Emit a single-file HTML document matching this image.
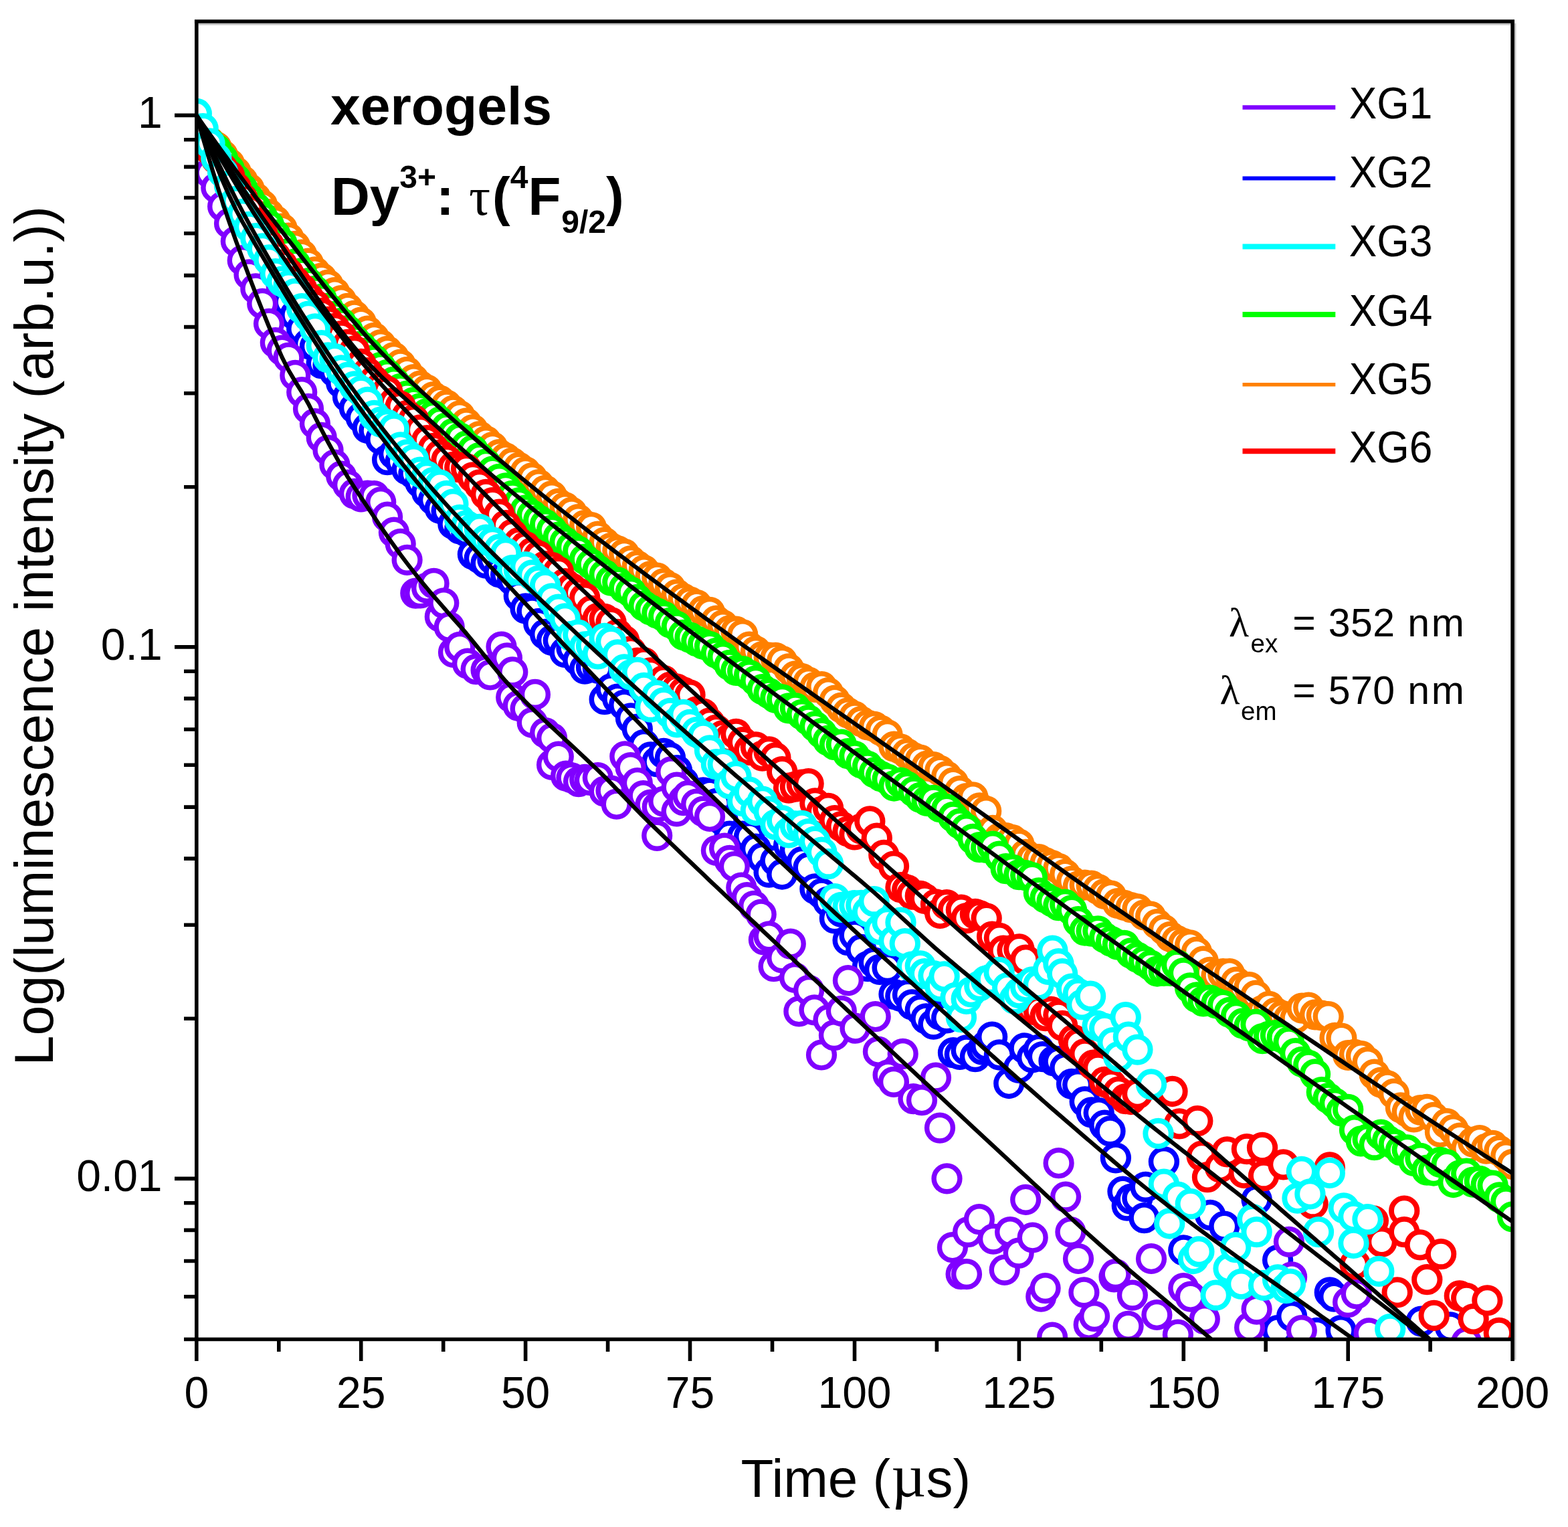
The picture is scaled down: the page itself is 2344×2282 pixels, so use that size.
<!DOCTYPE html>
<html lang="en"><head><meta charset="utf-8"><title>Dy3+ luminescence decay - xerogels</title>
<style>html,body{margin:0;padding:0;background:#fff}body{width:2344px;height:2282px;overflow:hidden}svg{display:block}text{font-family:"Liberation Sans",sans-serif;fill:#000}.tk{font-size:66px}.ti{font-size:80px}.b{font-weight:bold;font-size:80px}.lg{font-size:63.5px}.lm{font-size:59px}.sym{font-family:"Liberation Serif","DejaVu Serif",serif}</style></head><body>
<svg xmlns="http://www.w3.org/2000/svg" width="2344" height="2282" viewBox="0 0 2344 2282">
<rect width="2344" height="2282" fill="#fff"/>
<defs><clipPath id="cp"><rect x="293.8" y="32.0" width="1967.3" height="1969.5"/></clipPath></defs>
<g clip-path="url(#cp)" fill="none">
<g stroke="#0000ff" stroke-width="7.5" fill="#fff"><circle cx="293.8" cy="187.0" r="19.4"/><circle cx="303.6" cy="208.9" r="19.4"/><circle cx="313.5" cy="230.1" r="19.4"/><circle cx="323.3" cy="250.4" r="19.4"/><circle cx="333.1" cy="272.1" r="19.4"/><circle cx="343.0" cy="295.2" r="19.4"/><circle cx="352.8" cy="313.1" r="19.4"/><circle cx="362.7" cy="332.4" r="19.4"/><circle cx="372.5" cy="347.6" r="19.4"/><circle cx="382.3" cy="364.2" r="19.4"/><circle cx="392.2" cy="379.8" r="19.4"/><circle cx="402.0" cy="398.8" r="19.4"/><circle cx="411.8" cy="418.4" r="19.4"/><circle cx="421.7" cy="429.7" r="19.4"/><circle cx="431.5" cy="451.3" r="19.4"/><circle cx="441.3" cy="470.9" r="19.4"/><circle cx="451.2" cy="491.5" r="19.4"/><circle cx="461.0" cy="513.9" r="19.4"/><circle cx="470.9" cy="517.8" r="19.4"/><circle cx="480.7" cy="543.1" r="19.4"/><circle cx="490.5" cy="545.8" r="19.4"/><circle cx="500.4" cy="555.9" r="19.4"/><circle cx="510.2" cy="572.5" r="19.4"/><circle cx="520.0" cy="593.2" r="19.4"/><circle cx="529.9" cy="609.8" r="19.4"/><circle cx="539.7" cy="624.1" r="19.4"/><circle cx="549.5" cy="639.8" r="19.4"/><circle cx="559.4" cy="643.5" r="19.4"/><circle cx="569.2" cy="656.4" r="19.4"/><circle cx="579.1" cy="687.1" r="19.4"/><circle cx="588.9" cy="678.3" r="19.4"/><circle cx="598.7" cy="689.5" r="19.4"/><circle cx="608.6" cy="701.9" r="19.4"/><circle cx="618.4" cy="708.1" r="19.4"/><circle cx="628.2" cy="721.1" r="19.4"/><circle cx="638.1" cy="735.8" r="19.4"/><circle cx="647.9" cy="747.2" r="19.4"/><circle cx="657.8" cy="759.9" r="19.4"/><circle cx="667.6" cy="763.8" r="19.4"/><circle cx="677.4" cy="783.2" r="19.4"/><circle cx="687.3" cy="790.4" r="19.4"/><circle cx="697.1" cy="794.3" r="19.4"/><circle cx="706.9" cy="828.3" r="19.4"/><circle cx="716.8" cy="834.2" r="19.4"/><circle cx="726.6" cy="841.7" r="19.4"/><circle cx="736.4" cy="836.0" r="19.4"/><circle cx="746.3" cy="855.2" r="19.4"/><circle cx="756.1" cy="858.9" r="19.4"/><circle cx="766.0" cy="867.2" r="19.4"/><circle cx="775.8" cy="890.4" r="19.4"/><circle cx="785.6" cy="909.5" r="19.4"/><circle cx="795.5" cy="913.4" r="19.4"/><circle cx="805.3" cy="932.0" r="19.4"/><circle cx="815.1" cy="947.9" r="19.4"/><circle cx="825.0" cy="956.9" r="19.4"/><circle cx="834.8" cy="957.2" r="19.4"/><circle cx="844.6" cy="974.9" r="19.4"/><circle cx="854.5" cy="968.5" r="19.4"/><circle cx="864.3" cy="987.0" r="19.4"/><circle cx="874.2" cy="999.6" r="19.4"/><circle cx="884.0" cy="997.0" r="19.4"/><circle cx="893.8" cy="998.6" r="19.4"/><circle cx="903.7" cy="1045.2" r="19.4"/><circle cx="913.5" cy="1029.5" r="19.4"/><circle cx="923.3" cy="1044.6" r="19.4"/><circle cx="933.2" cy="1053.7" r="19.4"/><circle cx="943.0" cy="1073.3" r="19.4"/><circle cx="952.8" cy="1089.6" r="19.4"/><circle cx="962.7" cy="1112.9" r="19.4"/><circle cx="972.5" cy="1131.5" r="19.4"/><circle cx="982.4" cy="1138.4" r="19.4"/><circle cx="992.2" cy="1125.9" r="19.4"/><circle cx="1002.0" cy="1132.5" r="19.4"/><circle cx="1011.9" cy="1151.2" r="19.4"/><circle cx="1021.7" cy="1168.3" r="19.4"/><circle cx="1031.5" cy="1193.3" r="19.4"/><circle cx="1041.4" cy="1196.1" r="19.4"/><circle cx="1051.2" cy="1184.3" r="19.4"/><circle cx="1061.0" cy="1185.7" r="19.4"/><circle cx="1070.9" cy="1200.9" r="19.4"/><circle cx="1080.7" cy="1226.4" r="19.4"/><circle cx="1090.6" cy="1249.7" r="19.4"/><circle cx="1100.4" cy="1267.2" r="19.4"/><circle cx="1110.2" cy="1249.7" r="19.4"/><circle cx="1120.1" cy="1250.2" r="19.4"/><circle cx="1129.9" cy="1268.7" r="19.4"/><circle cx="1139.7" cy="1281.8" r="19.4"/><circle cx="1149.6" cy="1303.6" r="19.4"/><circle cx="1159.4" cy="1286.3" r="19.4"/><circle cx="1169.2" cy="1306.5" r="19.4"/><circle cx="1179.1" cy="1263.1" r="19.4"/><circle cx="1188.9" cy="1270.2" r="19.4"/><circle cx="1198.8" cy="1288.0" r="19.4"/><circle cx="1208.6" cy="1296.5" r="19.4"/><circle cx="1218.4" cy="1328.4" r="19.4"/><circle cx="1228.3" cy="1335.5" r="19.4"/><circle cx="1238.1" cy="1347.4" r="19.4"/><circle cx="1247.9" cy="1372.4" r="19.4"/><circle cx="1257.8" cy="1362.9" r="19.4"/><circle cx="1267.6" cy="1405.1" r="19.4"/><circle cx="1277.5" cy="1397.6" r="19.4"/><circle cx="1287.3" cy="1419.0" r="19.4"/><circle cx="1297.1" cy="1444.2" r="19.4"/><circle cx="1306.6" cy="1438.3" r="19.4"/><circle cx="1315.0" cy="1448.8" r="19.4"/><circle cx="1326.6" cy="1446.2" r="19.4"/><circle cx="1336.5" cy="1485.8" r="19.4"/><circle cx="1346.3" cy="1488.9" r="19.4"/><circle cx="1357.0" cy="1486.6" r="19.4"/><circle cx="1363.3" cy="1501.3" r="19.4"/><circle cx="1375.8" cy="1509.3" r="19.4"/><circle cx="1384.3" cy="1522.3" r="19.4"/><circle cx="1395.5" cy="1530.7" r="19.4"/><circle cx="1405.3" cy="1516.6" r="19.4"/><circle cx="1415.2" cy="1521.4" r="19.4"/><circle cx="1425.0" cy="1573.2" r="19.4"/><circle cx="1434.8" cy="1575.8" r="19.4"/><circle cx="1444.7" cy="1569.5" r="19.4"/><circle cx="1457.9" cy="1579.1" r="19.4"/><circle cx="1468.4" cy="1568.6" r="19.4"/><circle cx="1474.2" cy="1562.8" r="19.4"/><circle cx="1483.1" cy="1549.6" r="19.4"/><circle cx="1493.9" cy="1576.5" r="19.4"/><circle cx="1508.3" cy="1619.0" r="19.4"/><circle cx="1523.0" cy="1595.9" r="19.4"/><circle cx="1531.4" cy="1566.5" r="19.4"/><circle cx="1543.0" cy="1580.5" r="19.4"/><circle cx="1552.9" cy="1568.6" r="19.4"/><circle cx="1558.7" cy="1579.1" r="19.4"/><circle cx="1575.5" cy="1585.4" r="19.4"/><circle cx="1582.4" cy="1586.2" r="19.4"/><circle cx="1592.3" cy="1595.9" r="19.4"/><circle cx="1602.1" cy="1620.0" r="19.4"/><circle cx="1611.2" cy="1621.1" r="19.4"/><circle cx="1621.7" cy="1646.3" r="19.4"/><circle cx="1631.6" cy="1662.5" r="19.4"/><circle cx="1642.7" cy="1663.1" r="19.4"/><circle cx="1651.2" cy="1681.6" r="19.4"/><circle cx="1659.5" cy="1690.4" r="19.4"/><circle cx="1667.9" cy="1730.3" r="19.4"/><circle cx="1678.5" cy="1780.7" r="19.4"/><circle cx="1684.8" cy="1801.7" r="19.4"/><circle cx="1690.6" cy="1791.9" r="19.4"/><circle cx="1700.4" cy="1790.6" r="19.4"/><circle cx="1710.5" cy="1820.1" r="19.4"/><circle cx="1712.6" cy="1773.9" r="19.4"/><circle cx="1739.9" cy="1736.1" r="19.4"/><circle cx="1769.3" cy="1868.4" r="19.4"/><circle cx="1809.2" cy="1815.9" r="19.4"/><circle cx="1830.3" cy="1832.7" r="19.4"/><circle cx="1878.6" cy="1792.8" r="19.4"/><circle cx="1910.1" cy="1883.1" r="19.4"/><circle cx="1910.1" cy="1988.2" r="19.4"/><circle cx="1931.1" cy="1967.1" r="19.4"/><circle cx="1968.7" cy="1992.0" r="19.4"/><circle cx="1987.8" cy="1931.4" r="19.4"/><circle cx="1994.1" cy="1937.7" r="19.4"/><circle cx="2004.6" cy="1988.2" r="19.4"/><circle cx="2124.7" cy="1974.6" r="19.4"/><circle cx="2168.0" cy="1983.3" r="19.4"/></g>
<g stroke="#8000ff" stroke-width="7.4" fill="#fff"><circle cx="293.8" cy="235.2" r="19.4"/><circle cx="303.6" cy="245.7" r="19.4"/><circle cx="313.5" cy="258.3" r="19.4"/><circle cx="323.3" cy="280.5" r="19.4"/><circle cx="333.1" cy="308.5" r="19.4"/><circle cx="343.0" cy="333.9" r="19.4"/><circle cx="352.8" cy="360.6" r="19.4"/><circle cx="362.7" cy="389.2" r="19.4"/><circle cx="372.5" cy="410.4" r="19.4"/><circle cx="382.3" cy="431.4" r="19.4"/><circle cx="392.2" cy="453.9" r="19.4"/><circle cx="402.0" cy="483.8" r="19.4"/><circle cx="411.8" cy="512.2" r="19.4"/><circle cx="421.7" cy="523.7" r="19.4"/><circle cx="431.5" cy="534.5" r="19.4"/><circle cx="441.3" cy="560.9" r="19.4"/><circle cx="451.2" cy="586.1" r="19.4"/><circle cx="461.0" cy="610.9" r="19.4"/><circle cx="470.9" cy="633.2" r="19.4"/><circle cx="480.7" cy="653.9" r="19.4"/><circle cx="490.5" cy="672.9" r="19.4"/><circle cx="500.4" cy="694.5" r="19.4"/><circle cx="510.2" cy="711.5" r="19.4"/><circle cx="520.0" cy="724.5" r="19.4"/><circle cx="529.9" cy="737.8" r="19.4"/><circle cx="539.7" cy="742.3" r="19.4"/><circle cx="549.5" cy="740.6" r="19.4"/><circle cx="559.4" cy="741.2" r="19.4"/><circle cx="569.2" cy="750.3" r="19.4"/><circle cx="579.1" cy="772.5" r="19.4"/><circle cx="588.9" cy="795.7" r="19.4"/><circle cx="598.7" cy="812.8" r="19.4"/><circle cx="608.6" cy="836.8" r="19.4"/><circle cx="621.3" cy="886.6" r="19.4"/><circle cx="628.2" cy="886.4" r="19.4"/><circle cx="638.1" cy="878.7" r="19.4"/><circle cx="648.6" cy="871.9" r="19.4"/><circle cx="657.8" cy="921.7" r="19.4"/><circle cx="663.3" cy="901.3" r="19.4"/><circle cx="671.7" cy="937.0" r="19.4"/><circle cx="678.0" cy="974.9" r="19.4"/><circle cx="687.3" cy="966.9" r="19.4"/><circle cx="699.0" cy="991.7" r="19.4"/><circle cx="711.6" cy="1000.1" r="19.4"/><circle cx="726.6" cy="1001.4" r="19.4"/><circle cx="732.7" cy="1008.5" r="19.4"/><circle cx="749.5" cy="966.5" r="19.4"/><circle cx="757.9" cy="983.3" r="19.4"/><circle cx="764.2" cy="1042.1" r="19.4"/><circle cx="766.3" cy="1004.3" r="19.4"/><circle cx="774.7" cy="1054.7" r="19.4"/><circle cx="785.6" cy="1059.2" r="19.4"/><circle cx="795.7" cy="1079.9" r="19.4"/><circle cx="799.9" cy="1037.9" r="19.4"/><circle cx="815.1" cy="1095.2" r="19.4"/><circle cx="825.1" cy="1103.0" r="19.4"/><circle cx="825.1" cy="1142.9" r="19.4"/><circle cx="834.8" cy="1130.6" r="19.4"/><circle cx="846.1" cy="1159.7" r="19.4"/><circle cx="854.5" cy="1162.4" r="19.4"/><circle cx="865.0" cy="1168.1" r="19.4"/><circle cx="874.2" cy="1164.8" r="19.4"/><circle cx="881.8" cy="1166.0" r="19.4"/><circle cx="893.8" cy="1162.1" r="19.4"/><circle cx="903.7" cy="1182.7" r="19.4"/><circle cx="913.5" cy="1181.6" r="19.4"/><circle cx="921.7" cy="1201.7" r="19.4"/><circle cx="934.3" cy="1130.3" r="19.4"/><circle cx="942.7" cy="1147.1" r="19.4"/><circle cx="952.8" cy="1170.0" r="19.4"/><circle cx="961.6" cy="1189.1" r="19.4"/><circle cx="972.5" cy="1202.6" r="19.4"/><circle cx="982.2" cy="1248.8" r="19.4"/><circle cx="982.7" cy="1205.9" r="19.4"/><circle cx="992.2" cy="1197.6" r="19.4"/><circle cx="1003.2" cy="1153.4" r="19.4"/><circle cx="1011.6" cy="1176.5" r="19.4"/><circle cx="1011.6" cy="1212.3" r="19.4"/><circle cx="1021.7" cy="1196.1" r="19.4"/><circle cx="1028.5" cy="1189.1" r="19.4"/><circle cx="1041.1" cy="1201.7" r="19.4"/><circle cx="1051.2" cy="1212.7" r="19.4"/><circle cx="1061.0" cy="1220.0" r="19.4"/><circle cx="1070.9" cy="1271.0" r="19.4"/><circle cx="1083.1" cy="1267.7" r="19.4"/><circle cx="1090.6" cy="1285.8" r="19.4"/><circle cx="1097.8" cy="1295.0" r="19.4"/><circle cx="1108.3" cy="1326.5" r="19.4"/><circle cx="1116.7" cy="1341.2" r="19.4"/><circle cx="1127.2" cy="1353.8" r="19.4"/><circle cx="1137.7" cy="1366.5" r="19.4"/><circle cx="1141.9" cy="1404.3" r="19.4"/><circle cx="1149.6" cy="1399.3" r="19.4"/><circle cx="1156.6" cy="1444.2" r="19.4"/><circle cx="1169.2" cy="1431.4" r="19.4"/><circle cx="1181.8" cy="1410.6" r="19.4"/><circle cx="1188.1" cy="1461.0" r="19.4"/><circle cx="1194.4" cy="1511.4" r="19.4"/><circle cx="1209.1" cy="1479.9" r="19.4"/><circle cx="1217.5" cy="1509.3" r="19.4"/><circle cx="1228.0" cy="1576.5" r="19.4"/><circle cx="1238.5" cy="1524.0" r="19.4"/><circle cx="1246.9" cy="1547.1" r="19.4"/><circle cx="1257.8" cy="1510.8" r="19.4"/><circle cx="1267.9" cy="1465.2" r="19.4"/><circle cx="1278.5" cy="1536.6" r="19.4"/><circle cx="1308.7" cy="1519.2" r="19.4"/><circle cx="1312.9" cy="1571.7" r="19.4"/><circle cx="1327.6" cy="1606.4" r="19.4"/><circle cx="1336.0" cy="1616.9" r="19.4"/><circle cx="1349.7" cy="1574.9" r="19.4"/><circle cx="1365.4" cy="1642.1" r="19.4"/><circle cx="1378.0" cy="1644.2" r="19.4"/><circle cx="1399.0" cy="1610.6" r="19.4"/><circle cx="1405.0" cy="1685.6" r="19.4"/><circle cx="1415.5" cy="1761.3" r="19.4"/><circle cx="1423.9" cy="1864.2" r="19.4"/><circle cx="1436.6" cy="1904.1" r="19.4"/><circle cx="1445.0" cy="1904.1" r="19.4"/><circle cx="1447.1" cy="1841.1" r="19.4"/><circle cx="1463.9" cy="1822.2" r="19.4"/><circle cx="1484.9" cy="1851.6" r="19.4"/><circle cx="1501.7" cy="1897.8" r="19.4"/><circle cx="1510.1" cy="1841.1" r="19.4"/><circle cx="1522.7" cy="1872.6" r="19.4"/><circle cx="1533.2" cy="1792.8" r="19.4"/><circle cx="1543.7" cy="1849.5" r="19.4"/><circle cx="1556.3" cy="1937.7" r="19.4"/><circle cx="1562.6" cy="1925.1" r="19.4"/><circle cx="1573.1" cy="1998.7" r="19.4"/><circle cx="1582.6" cy="1738.2" r="19.4"/><circle cx="1593.1" cy="1788.6" r="19.4"/><circle cx="1600.4" cy="1841.1" r="19.4"/><circle cx="1612.0" cy="1881.0" r="19.4"/><circle cx="1620.4" cy="1931.4" r="19.4"/><circle cx="1627.7" cy="1979.7" r="19.4"/><circle cx="1636.1" cy="1967.1" r="19.4"/><circle cx="1665.5" cy="1908.3" r="19.4"/><circle cx="1667.6" cy="1904.1" r="19.4"/><circle cx="1686.6" cy="1981.8" r="19.4"/><circle cx="1692.9" cy="1935.6" r="19.4"/><circle cx="1721.0" cy="1881.0" r="19.4"/><circle cx="1729.4" cy="1965.0" r="19.4"/><circle cx="1760.9" cy="1994.5" r="19.4"/><circle cx="1769.3" cy="1925.1" r="19.4"/><circle cx="1779.8" cy="1937.7" r="19.4"/><circle cx="1800.8" cy="1971.3" r="19.4"/><circle cx="1868.1" cy="1983.9" r="19.4"/><circle cx="1878.6" cy="1956.6" r="19.4"/><circle cx="1926.9" cy="1855.8" r="19.4"/><circle cx="1931.1" cy="1908.3" r="19.4"/><circle cx="1945.8" cy="1988.2" r="19.4"/><circle cx="2015.1" cy="1946.1" r="19.4"/><circle cx="2027.7" cy="1933.5" r="19.4"/><circle cx="2046.6" cy="1992.4" r="19.4"/><circle cx="2192.2" cy="2005.8" r="19.4"/></g>
<g stroke="#ff8000" stroke-width="7.4" fill="#fff"><circle cx="293.8" cy="197.2" r="19.4"/><circle cx="303.6" cy="204.6" r="19.4"/><circle cx="313.5" cy="212.1" r="19.4"/><circle cx="323.3" cy="219.6" r="19.4"/><circle cx="333.1" cy="232.1" r="19.4"/><circle cx="343.0" cy="244.6" r="19.4"/><circle cx="352.8" cy="257.2" r="19.4"/><circle cx="362.7" cy="270.1" r="19.4"/><circle cx="372.5" cy="282.1" r="19.4"/><circle cx="382.3" cy="295.5" r="19.4"/><circle cx="392.2" cy="306.4" r="19.4"/><circle cx="402.0" cy="320.2" r="19.4"/><circle cx="411.8" cy="330.1" r="19.4"/><circle cx="421.7" cy="341.7" r="19.4"/><circle cx="431.5" cy="355.5" r="19.4"/><circle cx="441.3" cy="367.9" r="19.4"/><circle cx="451.2" cy="380.7" r="19.4"/><circle cx="461.0" cy="393.7" r="19.4"/><circle cx="470.9" cy="406.3" r="19.4"/><circle cx="480.7" cy="415.6" r="19.4"/><circle cx="490.5" cy="425.7" r="19.4"/><circle cx="500.4" cy="437.1" r="19.4"/><circle cx="510.2" cy="449.1" r="19.4"/><circle cx="520.0" cy="460.8" r="19.4"/><circle cx="529.9" cy="471.5" r="19.4"/><circle cx="539.7" cy="481.7" r="19.4"/><circle cx="549.5" cy="494.6" r="19.4"/><circle cx="559.4" cy="504.9" r="19.4"/><circle cx="569.2" cy="515.2" r="19.4"/><circle cx="579.1" cy="524.9" r="19.4"/><circle cx="588.9" cy="534.0" r="19.4"/><circle cx="598.7" cy="544.5" r="19.4"/><circle cx="608.6" cy="555.8" r="19.4"/><circle cx="618.4" cy="567.1" r="19.4"/><circle cx="628.2" cy="576.6" r="19.4"/><circle cx="638.1" cy="582.6" r="19.4"/><circle cx="647.9" cy="593.0" r="19.4"/><circle cx="657.8" cy="598.6" r="19.4"/><circle cx="667.6" cy="605.4" r="19.4"/><circle cx="677.4" cy="613.5" r="19.4"/><circle cx="687.3" cy="621.3" r="19.4"/><circle cx="697.1" cy="632.4" r="19.4"/><circle cx="706.9" cy="642.2" r="19.4"/><circle cx="716.8" cy="652.2" r="19.4"/><circle cx="726.6" cy="659.1" r="19.4"/><circle cx="736.4" cy="668.0" r="19.4"/><circle cx="746.3" cy="679.1" r="19.4"/><circle cx="756.1" cy="684.4" r="19.4"/><circle cx="766.0" cy="691.6" r="19.4"/><circle cx="775.8" cy="698.7" r="19.4"/><circle cx="785.6" cy="705.0" r="19.4"/><circle cx="795.5" cy="714.1" r="19.4"/><circle cx="805.3" cy="724.2" r="19.4"/><circle cx="815.1" cy="732.9" r="19.4"/><circle cx="825.0" cy="741.2" r="19.4"/><circle cx="834.8" cy="752.7" r="19.4"/><circle cx="844.6" cy="758.2" r="19.4"/><circle cx="854.5" cy="765.5" r="19.4"/><circle cx="864.3" cy="776.2" r="19.4"/><circle cx="874.2" cy="785.0" r="19.4"/><circle cx="884.0" cy="788.0" r="19.4"/><circle cx="893.8" cy="801.5" r="19.4"/><circle cx="903.7" cy="810.7" r="19.4"/><circle cx="913.5" cy="818.9" r="19.4"/><circle cx="923.3" cy="823.0" r="19.4"/><circle cx="933.2" cy="827.9" r="19.4"/><circle cx="943.0" cy="838.2" r="19.4"/><circle cx="952.8" cy="845.5" r="19.4"/><circle cx="962.7" cy="852.2" r="19.4"/><circle cx="972.5" cy="861.2" r="19.4"/><circle cx="982.4" cy="863.5" r="19.4"/><circle cx="992.2" cy="872.0" r="19.4"/><circle cx="1002.0" cy="878.1" r="19.4"/><circle cx="1011.9" cy="888.3" r="19.4"/><circle cx="1021.7" cy="894.5" r="19.4"/><circle cx="1031.5" cy="899.4" r="19.4"/><circle cx="1041.4" cy="903.8" r="19.4"/><circle cx="1051.2" cy="912.8" r="19.4"/><circle cx="1061.0" cy="914.9" r="19.4"/><circle cx="1070.9" cy="927.5" r="19.4"/><circle cx="1080.7" cy="934.2" r="19.4"/><circle cx="1090.6" cy="942.4" r="19.4"/><circle cx="1100.4" cy="943.6" r="19.4"/><circle cx="1110.2" cy="948.3" r="19.4"/><circle cx="1120.1" cy="966.5" r="19.4"/><circle cx="1129.9" cy="973.2" r="19.4"/><circle cx="1139.7" cy="981.2" r="19.4"/><circle cx="1149.6" cy="982.5" r="19.4"/><circle cx="1159.4" cy="982.8" r="19.4"/><circle cx="1169.2" cy="987.9" r="19.4"/><circle cx="1179.1" cy="999.4" r="19.4"/><circle cx="1188.9" cy="1010.4" r="19.4"/><circle cx="1198.8" cy="1014.0" r="19.4"/><circle cx="1208.6" cy="1019.3" r="19.4"/><circle cx="1218.4" cy="1026.9" r="19.4"/><circle cx="1228.3" cy="1026.1" r="19.4"/><circle cx="1238.1" cy="1035.3" r="19.4"/><circle cx="1247.9" cy="1046.6" r="19.4"/><circle cx="1257.8" cy="1057.6" r="19.4"/><circle cx="1267.6" cy="1065.3" r="19.4"/><circle cx="1277.5" cy="1070.4" r="19.4"/><circle cx="1287.3" cy="1078.1" r="19.4"/><circle cx="1297.1" cy="1083.5" r="19.4"/><circle cx="1307.0" cy="1085.9" r="19.4"/><circle cx="1316.8" cy="1091.7" r="19.4"/><circle cx="1326.6" cy="1098.0" r="19.4"/><circle cx="1336.5" cy="1115.6" r="19.4"/><circle cx="1346.3" cy="1119.3" r="19.4"/><circle cx="1356.1" cy="1126.3" r="19.4"/><circle cx="1366.0" cy="1132.3" r="19.4"/><circle cx="1375.8" cy="1135.6" r="19.4"/><circle cx="1385.7" cy="1144.7" r="19.4"/><circle cx="1395.5" cy="1146.2" r="19.4"/><circle cx="1405.3" cy="1151.6" r="19.4"/><circle cx="1415.2" cy="1160.2" r="19.4"/><circle cx="1425.0" cy="1169.7" r="19.4"/><circle cx="1434.8" cy="1182.1" r="19.4"/><circle cx="1444.7" cy="1193.0" r="19.4"/><circle cx="1454.5" cy="1191.3" r="19.4"/><circle cx="1464.3" cy="1207.4" r="19.4"/><circle cx="1474.2" cy="1212.1" r="19.4"/><circle cx="1484.0" cy="1240.8" r="19.4"/><circle cx="1493.9" cy="1252.7" r="19.4"/><circle cx="1503.7" cy="1252.0" r="19.4"/><circle cx="1513.5" cy="1255.1" r="19.4"/><circle cx="1523.4" cy="1261.6" r="19.4"/><circle cx="1533.2" cy="1276.8" r="19.4"/><circle cx="1543.0" cy="1283.2" r="19.4"/><circle cx="1552.9" cy="1284.1" r="19.4"/><circle cx="1562.7" cy="1289.2" r="19.4"/><circle cx="1572.5" cy="1293.1" r="19.4"/><circle cx="1582.4" cy="1297.9" r="19.4"/><circle cx="1592.2" cy="1306.7" r="19.4"/><circle cx="1602.1" cy="1316.8" r="19.4"/><circle cx="1611.9" cy="1324.4" r="19.4"/><circle cx="1621.7" cy="1322.5" r="19.4"/><circle cx="1631.6" cy="1323.5" r="19.4"/><circle cx="1641.4" cy="1328.9" r="19.4"/><circle cx="1651.2" cy="1335.8" r="19.4"/><circle cx="1661.1" cy="1338.7" r="19.4"/><circle cx="1670.9" cy="1350.0" r="19.4"/><circle cx="1680.7" cy="1352.9" r="19.4"/><circle cx="1690.6" cy="1356.2" r="19.4"/><circle cx="1700.4" cy="1358.4" r="19.4"/><circle cx="1710.3" cy="1367.3" r="19.4"/><circle cx="1720.1" cy="1369.6" r="19.4"/><circle cx="1729.9" cy="1381.0" r="19.4"/><circle cx="1739.8" cy="1389.4" r="19.4"/><circle cx="1749.6" cy="1399.8" r="19.4"/><circle cx="1759.4" cy="1405.5" r="19.4"/><circle cx="1769.3" cy="1409.9" r="19.4"/><circle cx="1779.1" cy="1412.3" r="19.4"/><circle cx="1788.9" cy="1422.7" r="19.4"/><circle cx="1798.8" cy="1436.7" r="19.4"/><circle cx="1808.6" cy="1452.9" r="19.4"/><circle cx="1818.5" cy="1458.0" r="19.4"/><circle cx="1828.3" cy="1455.1" r="19.4"/><circle cx="1838.1" cy="1455.0" r="19.4"/><circle cx="1848.0" cy="1467.6" r="19.4"/><circle cx="1857.8" cy="1475.8" r="19.4"/><circle cx="1867.6" cy="1475.2" r="19.4"/><circle cx="1877.5" cy="1487.6" r="19.4"/><circle cx="1887.3" cy="1510.2" r="19.4"/><circle cx="1897.1" cy="1503.9" r="19.4"/><circle cx="1907.0" cy="1513.4" r="19.4"/><circle cx="1916.8" cy="1517.9" r="19.4"/><circle cx="1926.7" cy="1521.8" r="19.4"/><circle cx="1936.5" cy="1521.8" r="19.4"/><circle cx="1946.3" cy="1506.6" r="19.4"/><circle cx="1956.2" cy="1505.5" r="19.4"/><circle cx="1966.0" cy="1516.3" r="19.4"/><circle cx="1975.8" cy="1517.5" r="19.4"/><circle cx="1985.7" cy="1519.1" r="19.4"/><circle cx="1995.5" cy="1550.9" r="19.4"/><circle cx="2005.4" cy="1551.7" r="19.4"/><circle cx="2015.2" cy="1577.0" r="19.4"/><circle cx="2025.0" cy="1575.8" r="19.4"/><circle cx="2034.9" cy="1578.1" r="19.4"/><circle cx="2044.7" cy="1587.1" r="19.4"/><circle cx="2054.5" cy="1605.6" r="19.4"/><circle cx="2064.4" cy="1617.6" r="19.4"/><circle cx="2074.2" cy="1622.4" r="19.4"/><circle cx="2084.0" cy="1634.7" r="19.4"/><circle cx="2093.9" cy="1655.3" r="19.4"/><circle cx="2103.7" cy="1661.4" r="19.4"/><circle cx="2113.6" cy="1669.4" r="19.4"/><circle cx="2123.4" cy="1659.0" r="19.4"/><circle cx="2133.2" cy="1657.8" r="19.4"/><circle cx="2143.1" cy="1669.9" r="19.4"/><circle cx="2152.9" cy="1691.7" r="19.4"/><circle cx="2162.7" cy="1679.1" r="19.4"/><circle cx="2172.6" cy="1688.2" r="19.4"/><circle cx="2182.4" cy="1700.5" r="19.4"/><circle cx="2192.2" cy="1716.4" r="19.4"/><circle cx="2202.1" cy="1706.7" r="19.4"/><circle cx="2211.9" cy="1704.0" r="19.4"/><circle cx="2221.8" cy="1716.7" r="19.4"/><circle cx="2231.6" cy="1711.8" r="19.4"/><circle cx="2241.4" cy="1719.7" r="19.4"/><circle cx="2251.3" cy="1727.3" r="19.4"/><circle cx="2261.1" cy="1739.9" r="19.4"/></g>
<g stroke="#00ff00" stroke-width="7.9" fill="#fff"><circle cx="293.8" cy="192.4" r="19.2"/><circle cx="303.6" cy="203.1" r="19.2"/><circle cx="313.5" cy="213.3" r="19.2"/><circle cx="323.3" cy="223.2" r="19.2"/><circle cx="333.1" cy="237.6" r="19.2"/><circle cx="343.0" cy="253.1" r="19.2"/><circle cx="352.8" cy="267.8" r="19.2"/><circle cx="362.7" cy="282.2" r="19.2"/><circle cx="372.5" cy="296.9" r="19.2"/><circle cx="382.3" cy="310.2" r="19.2"/><circle cx="392.2" cy="324.0" r="19.2"/><circle cx="402.0" cy="336.6" r="19.2"/><circle cx="411.8" cy="351.2" r="19.2"/><circle cx="421.7" cy="364.1" r="19.2"/><circle cx="431.5" cy="378.8" r="19.2"/><circle cx="441.3" cy="394.4" r="19.2"/><circle cx="451.2" cy="408.2" r="19.2"/><circle cx="461.0" cy="423.2" r="19.2"/><circle cx="470.9" cy="435.0" r="19.2"/><circle cx="480.7" cy="446.8" r="19.2"/><circle cx="490.5" cy="460.6" r="19.2"/><circle cx="500.4" cy="472.9" r="19.2"/><circle cx="510.2" cy="482.9" r="19.2"/><circle cx="520.0" cy="494.2" r="19.2"/><circle cx="529.9" cy="507.8" r="19.2"/><circle cx="539.7" cy="517.3" r="19.2"/><circle cx="549.5" cy="527.5" r="19.2"/><circle cx="559.4" cy="537.9" r="19.2"/><circle cx="569.2" cy="549.0" r="19.2"/><circle cx="579.1" cy="559.8" r="19.2"/><circle cx="588.9" cy="570.7" r="19.2"/><circle cx="598.7" cy="581.0" r="19.2"/><circle cx="608.6" cy="591.7" r="19.2"/><circle cx="618.4" cy="601.3" r="19.2"/><circle cx="628.2" cy="610.3" r="19.2"/><circle cx="638.1" cy="618.1" r="19.2"/><circle cx="647.9" cy="621.2" r="19.2"/><circle cx="657.8" cy="630.5" r="19.2"/><circle cx="667.6" cy="639.1" r="19.2"/><circle cx="677.4" cy="647.8" r="19.2"/><circle cx="687.3" cy="654.4" r="19.2"/><circle cx="697.1" cy="666.5" r="19.2"/><circle cx="706.9" cy="672.6" r="19.2"/><circle cx="716.8" cy="683.9" r="19.2"/><circle cx="726.6" cy="693.5" r="19.2"/><circle cx="736.4" cy="704.3" r="19.2"/><circle cx="746.3" cy="715.8" r="19.2"/><circle cx="756.1" cy="729.4" r="19.2"/><circle cx="766.0" cy="740.9" r="19.2"/><circle cx="775.8" cy="751.3" r="19.2"/><circle cx="785.6" cy="762.3" r="19.2"/><circle cx="795.5" cy="769.8" r="19.2"/><circle cx="805.3" cy="777.4" r="19.2"/><circle cx="815.1" cy="783.8" r="19.2"/><circle cx="825.0" cy="792.3" r="19.2"/><circle cx="834.8" cy="802.7" r="19.2"/><circle cx="844.6" cy="810.1" r="19.2"/><circle cx="854.5" cy="817.6" r="19.2"/><circle cx="864.3" cy="823.6" r="19.2"/><circle cx="874.2" cy="835.7" r="19.2"/><circle cx="884.0" cy="843.1" r="19.2"/><circle cx="893.8" cy="852.1" r="19.2"/><circle cx="903.7" cy="858.9" r="19.2"/><circle cx="913.5" cy="867.7" r="19.2"/><circle cx="923.3" cy="870.2" r="19.2"/><circle cx="933.2" cy="878.8" r="19.2"/><circle cx="943.0" cy="884.6" r="19.2"/><circle cx="952.8" cy="896.0" r="19.2"/><circle cx="962.7" cy="905.4" r="19.2"/><circle cx="972.5" cy="911.5" r="19.2"/><circle cx="982.4" cy="916.5" r="19.2"/><circle cx="992.2" cy="921.2" r="19.2"/><circle cx="1002.0" cy="930.6" r="19.2"/><circle cx="1011.9" cy="936.0" r="19.2"/><circle cx="1021.7" cy="948.9" r="19.2"/><circle cx="1031.5" cy="952.7" r="19.2"/><circle cx="1041.4" cy="958.1" r="19.2"/><circle cx="1051.2" cy="962.7" r="19.2"/><circle cx="1061.0" cy="966.2" r="19.2"/><circle cx="1070.9" cy="976.0" r="19.2"/><circle cx="1080.7" cy="981.7" r="19.2"/><circle cx="1090.6" cy="994.0" r="19.2"/><circle cx="1100.4" cy="1001.8" r="19.2"/><circle cx="1110.2" cy="1003.2" r="19.2"/><circle cx="1120.1" cy="1008.8" r="19.2"/><circle cx="1129.9" cy="1017.4" r="19.2"/><circle cx="1139.7" cy="1030.2" r="19.2"/><circle cx="1149.6" cy="1036.1" r="19.2"/><circle cx="1159.4" cy="1042.9" r="19.2"/><circle cx="1169.2" cy="1045.4" r="19.2"/><circle cx="1179.1" cy="1058.4" r="19.2"/><circle cx="1188.9" cy="1058.1" r="19.2"/><circle cx="1198.8" cy="1067.8" r="19.2"/><circle cx="1208.6" cy="1076.1" r="19.2"/><circle cx="1218.4" cy="1085.6" r="19.2"/><circle cx="1228.3" cy="1095.9" r="19.2"/><circle cx="1238.1" cy="1106.7" r="19.2"/><circle cx="1247.9" cy="1113.1" r="19.2"/><circle cx="1257.8" cy="1112.6" r="19.2"/><circle cx="1267.6" cy="1126.1" r="19.2"/><circle cx="1277.5" cy="1129.9" r="19.2"/><circle cx="1287.3" cy="1140.1" r="19.2"/><circle cx="1297.1" cy="1145.0" r="19.2"/><circle cx="1307.0" cy="1154.4" r="19.2"/><circle cx="1316.8" cy="1160.2" r="19.2"/><circle cx="1326.6" cy="1164.4" r="19.2"/><circle cx="1336.5" cy="1174.5" r="19.2"/><circle cx="1346.3" cy="1169.6" r="19.2"/><circle cx="1356.1" cy="1175.5" r="19.2"/><circle cx="1366.0" cy="1183.1" r="19.2"/><circle cx="1375.8" cy="1192.0" r="19.2"/><circle cx="1385.7" cy="1196.8" r="19.2"/><circle cx="1395.5" cy="1195.9" r="19.2"/><circle cx="1405.3" cy="1206.2" r="19.2"/><circle cx="1415.2" cy="1209.2" r="19.2"/><circle cx="1425.0" cy="1221.0" r="19.2"/><circle cx="1434.8" cy="1231.0" r="19.2"/><circle cx="1444.7" cy="1238.7" r="19.2"/><circle cx="1454.5" cy="1253.8" r="19.2"/><circle cx="1464.3" cy="1266.1" r="19.2"/><circle cx="1474.2" cy="1266.9" r="19.2"/><circle cx="1484.0" cy="1264.7" r="19.2"/><circle cx="1493.9" cy="1279.6" r="19.2"/><circle cx="1503.7" cy="1298.1" r="19.2"/><circle cx="1513.5" cy="1299.6" r="19.2"/><circle cx="1523.4" cy="1307.1" r="19.2"/><circle cx="1533.2" cy="1308.1" r="19.2"/><circle cx="1543.0" cy="1311.3" r="19.2"/><circle cx="1552.9" cy="1334.3" r="19.2"/><circle cx="1562.7" cy="1341.7" r="19.2"/><circle cx="1572.5" cy="1347.1" r="19.2"/><circle cx="1582.4" cy="1353.2" r="19.2"/><circle cx="1592.2" cy="1351.6" r="19.2"/><circle cx="1602.1" cy="1360.3" r="19.2"/><circle cx="1611.9" cy="1377.1" r="19.2"/><circle cx="1621.7" cy="1390.5" r="19.2"/><circle cx="1631.6" cy="1391.6" r="19.2"/><circle cx="1641.4" cy="1391.3" r="19.2"/><circle cx="1651.2" cy="1401.1" r="19.2"/><circle cx="1661.1" cy="1406.8" r="19.2"/><circle cx="1670.9" cy="1411.7" r="19.2"/><circle cx="1680.7" cy="1412.9" r="19.2"/><circle cx="1690.6" cy="1424.5" r="19.2"/><circle cx="1700.4" cy="1430.7" r="19.2"/><circle cx="1710.3" cy="1436.5" r="19.2"/><circle cx="1720.1" cy="1442.7" r="19.2"/><circle cx="1729.9" cy="1451.5" r="19.2"/><circle cx="1739.8" cy="1450.9" r="19.2"/><circle cx="1749.6" cy="1450.9" r="19.2"/><circle cx="1759.4" cy="1441.9" r="19.2"/><circle cx="1769.3" cy="1454.1" r="19.2"/><circle cx="1779.1" cy="1476.3" r="19.2"/><circle cx="1788.9" cy="1490.4" r="19.2"/><circle cx="1798.8" cy="1496.3" r="19.2"/><circle cx="1808.6" cy="1494.6" r="19.2"/><circle cx="1818.5" cy="1499.3" r="19.2"/><circle cx="1828.3" cy="1502.3" r="19.2"/><circle cx="1838.1" cy="1512.9" r="19.2"/><circle cx="1848.0" cy="1518.5" r="19.2"/><circle cx="1857.8" cy="1529.3" r="19.2"/><circle cx="1867.6" cy="1533.3" r="19.2"/><circle cx="1877.5" cy="1530.7" r="19.2"/><circle cx="1887.3" cy="1552.2" r="19.2"/><circle cx="1897.1" cy="1548.6" r="19.2"/><circle cx="1907.0" cy="1547.2" r="19.2"/><circle cx="1916.8" cy="1550.6" r="19.2"/><circle cx="1926.7" cy="1557.0" r="19.2"/><circle cx="1936.5" cy="1574.1" r="19.2"/><circle cx="1946.3" cy="1586.8" r="19.2"/><circle cx="1956.2" cy="1591.9" r="19.2"/><circle cx="1966.0" cy="1605.3" r="19.2"/><circle cx="1975.8" cy="1632.1" r="19.2"/><circle cx="1985.7" cy="1641.1" r="19.2"/><circle cx="1995.5" cy="1648.7" r="19.2"/><circle cx="2005.4" cy="1660.5" r="19.2"/><circle cx="2015.2" cy="1657.9" r="19.2"/><circle cx="2025.0" cy="1688.8" r="19.2"/><circle cx="2034.9" cy="1705.4" r="19.2"/><circle cx="2044.7" cy="1702.5" r="19.2"/><circle cx="2054.5" cy="1711.1" r="19.2"/><circle cx="2064.4" cy="1695.7" r="19.2"/><circle cx="2074.2" cy="1704.4" r="19.2"/><circle cx="2084.0" cy="1709.9" r="19.2"/><circle cx="2093.9" cy="1719.1" r="19.2"/><circle cx="2103.7" cy="1718.3" r="19.2"/><circle cx="2113.6" cy="1734.9" r="19.2"/><circle cx="2123.4" cy="1730.8" r="19.2"/><circle cx="2133.2" cy="1748.7" r="19.2"/><circle cx="2143.1" cy="1749.5" r="19.2"/><circle cx="2152.9" cy="1736.9" r="19.2"/><circle cx="2162.7" cy="1740.2" r="19.2"/><circle cx="2172.6" cy="1767.0" r="19.2"/><circle cx="2182.4" cy="1756.3" r="19.2"/><circle cx="2192.2" cy="1753.7" r="19.2"/><circle cx="2202.1" cy="1766.7" r="19.2"/><circle cx="2211.9" cy="1765.0" r="19.2"/><circle cx="2221.8" cy="1770.2" r="19.2"/><circle cx="2231.6" cy="1771.7" r="19.2"/><circle cx="2241.4" cy="1789.4" r="19.2"/><circle cx="2251.3" cy="1795.9" r="19.2"/><circle cx="2261.1" cy="1818.3" r="19.2"/></g>
<g stroke="#ff0000" stroke-width="7.9" fill="#fff"><circle cx="293.8" cy="210.5" r="19.2"/><circle cx="303.6" cy="217.3" r="19.2"/><circle cx="313.5" cy="223.6" r="19.2"/><circle cx="323.3" cy="237.4" r="19.2"/><circle cx="333.1" cy="252.0" r="19.2"/><circle cx="343.0" cy="262.3" r="19.2"/><circle cx="352.8" cy="280.1" r="19.2"/><circle cx="362.7" cy="296.9" r="19.2"/><circle cx="372.5" cy="312.9" r="19.2"/><circle cx="382.3" cy="333.1" r="19.2"/><circle cx="392.2" cy="349.7" r="19.2"/><circle cx="402.0" cy="366.2" r="19.2"/><circle cx="411.8" cy="383.1" r="19.2"/><circle cx="421.7" cy="395.7" r="19.2"/><circle cx="431.5" cy="408.5" r="19.2"/><circle cx="441.3" cy="420.8" r="19.2"/><circle cx="451.2" cy="431.7" r="19.2"/><circle cx="461.0" cy="444.6" r="19.2"/><circle cx="470.9" cy="455.6" r="19.2"/><circle cx="480.7" cy="467.9" r="19.2"/><circle cx="490.5" cy="480.9" r="19.2"/><circle cx="500.4" cy="490.8" r="19.2"/><circle cx="510.2" cy="502.1" r="19.2"/><circle cx="520.0" cy="514.8" r="19.2"/><circle cx="529.9" cy="524.5" r="19.2"/><circle cx="539.7" cy="544.0" r="19.2"/><circle cx="549.5" cy="557.2" r="19.2"/><circle cx="559.4" cy="569.1" r="19.2"/><circle cx="569.2" cy="578.9" r="19.2"/><circle cx="579.1" cy="584.8" r="19.2"/><circle cx="588.9" cy="601.9" r="19.2"/><circle cx="598.7" cy="607.2" r="19.2"/><circle cx="608.6" cy="621.0" r="19.2"/><circle cx="618.4" cy="627.4" r="19.2"/><circle cx="628.2" cy="642.5" r="19.2"/><circle cx="638.1" cy="658.1" r="19.2"/><circle cx="647.9" cy="669.9" r="19.2"/><circle cx="657.8" cy="679.9" r="19.2"/><circle cx="667.6" cy="687.3" r="19.2"/><circle cx="677.4" cy="697.9" r="19.2"/><circle cx="687.3" cy="698.4" r="19.2"/><circle cx="697.1" cy="700.5" r="19.2"/><circle cx="706.9" cy="713.5" r="19.2"/><circle cx="716.8" cy="724.5" r="19.2"/><circle cx="726.6" cy="738.9" r="19.2"/><circle cx="736.4" cy="751.2" r="19.2"/><circle cx="746.3" cy="768.7" r="19.2"/><circle cx="756.1" cy="785.1" r="19.2"/><circle cx="766.0" cy="798.5" r="19.2"/><circle cx="775.8" cy="810.9" r="19.2"/><circle cx="785.6" cy="817.0" r="19.2"/><circle cx="795.5" cy="825.8" r="19.2"/><circle cx="805.3" cy="831.0" r="19.2"/><circle cx="815.1" cy="846.1" r="19.2"/><circle cx="825.0" cy="847.8" r="19.2"/><circle cx="834.8" cy="854.3" r="19.2"/><circle cx="844.6" cy="872.2" r="19.2"/><circle cx="854.5" cy="879.2" r="19.2"/><circle cx="864.3" cy="886.1" r="19.2"/><circle cx="874.2" cy="893.7" r="19.2"/><circle cx="884.0" cy="912.6" r="19.2"/><circle cx="893.8" cy="924.0" r="19.2"/><circle cx="903.7" cy="924.9" r="19.2"/><circle cx="913.5" cy="930.2" r="19.2"/><circle cx="923.3" cy="947.8" r="19.2"/><circle cx="933.2" cy="957.3" r="19.2"/><circle cx="943.0" cy="973.5" r="19.2"/><circle cx="952.8" cy="990.7" r="19.2"/><circle cx="962.7" cy="990.1" r="19.2"/><circle cx="972.5" cy="1005.4" r="19.2"/><circle cx="982.4" cy="1026.6" r="19.2"/><circle cx="992.2" cy="1016.8" r="19.2"/><circle cx="1002.0" cy="1026.6" r="19.2"/><circle cx="1011.9" cy="1029.7" r="19.2"/><circle cx="1021.7" cy="1034.5" r="19.2"/><circle cx="1031.5" cy="1038.7" r="19.2"/><circle cx="1041.4" cy="1063.4" r="19.2"/><circle cx="1051.2" cy="1066.6" r="19.2"/><circle cx="1061.0" cy="1080.5" r="19.2"/><circle cx="1070.9" cy="1090.6" r="19.2"/><circle cx="1080.7" cy="1099.1" r="19.2"/><circle cx="1090.6" cy="1104.2" r="19.2"/><circle cx="1100.4" cy="1096.9" r="19.2"/><circle cx="1110.2" cy="1109.2" r="19.2"/><circle cx="1120.1" cy="1120.9" r="19.2"/><circle cx="1129.9" cy="1116.4" r="19.2"/><circle cx="1139.7" cy="1129.7" r="19.2"/><circle cx="1149.6" cy="1123.5" r="19.2"/><circle cx="1159.4" cy="1132.5" r="19.2"/><circle cx="1169.2" cy="1153.2" r="19.2"/><circle cx="1179.1" cy="1177.6" r="19.2"/><circle cx="1188.9" cy="1175.7" r="19.2"/><circle cx="1198.8" cy="1172.6" r="19.2"/><circle cx="1208.6" cy="1171.1" r="19.2"/><circle cx="1218.4" cy="1200.4" r="19.2"/><circle cx="1228.3" cy="1212.9" r="19.2"/><circle cx="1238.1" cy="1207.8" r="19.2"/><circle cx="1247.9" cy="1226.2" r="19.2"/><circle cx="1257.8" cy="1235.1" r="19.2"/><circle cx="1267.6" cy="1242.4" r="19.2"/><circle cx="1277.5" cy="1247.4" r="19.2"/><circle cx="1287.3" cy="1238.6" r="19.2"/><circle cx="1300.3" cy="1227.4" r="19.2"/><circle cx="1310.8" cy="1252.6" r="19.2"/><circle cx="1321.3" cy="1277.8" r="19.2"/><circle cx="1336.0" cy="1294.6" r="19.2"/><circle cx="1346.5" cy="1326.1" r="19.2"/><circle cx="1356.1" cy="1329.8" r="19.2"/><circle cx="1363.3" cy="1336.6" r="19.2"/><circle cx="1375.8" cy="1338.9" r="19.2"/><circle cx="1382.2" cy="1342.9" r="19.2"/><circle cx="1399.0" cy="1351.3" r="19.2"/><circle cx="1405.3" cy="1364.9" r="19.2"/><circle cx="1415.2" cy="1352.2" r="19.2"/><circle cx="1425.0" cy="1359.5" r="19.2"/><circle cx="1436.9" cy="1359.7" r="19.2"/><circle cx="1444.7" cy="1372.2" r="19.2"/><circle cx="1457.9" cy="1366.0" r="19.2"/><circle cx="1464.3" cy="1368.1" r="19.2"/><circle cx="1474.7" cy="1372.3" r="19.2"/><circle cx="1483.1" cy="1399.6" r="19.2"/><circle cx="1493.9" cy="1401.8" r="19.2"/><circle cx="1499.9" cy="1420.7" r="19.2"/><circle cx="1513.5" cy="1419.9" r="19.2"/><circle cx="1523.4" cy="1418.3" r="19.2"/><circle cx="1533.2" cy="1434.6" r="19.2"/><circle cx="1543.0" cy="1508.7" r="19.2"/><circle cx="1552.9" cy="1510.6" r="19.2"/><circle cx="1562.7" cy="1518.1" r="19.2"/><circle cx="1571.3" cy="1511.8" r="19.2"/><circle cx="1582.4" cy="1517.1" r="19.2"/><circle cx="1588.1" cy="1532.8" r="19.2"/><circle cx="1604.9" cy="1553.8" r="19.2"/><circle cx="1611.9" cy="1559.5" r="19.2"/><circle cx="1621.7" cy="1574.9" r="19.2"/><circle cx="1634.3" cy="1591.7" r="19.2"/><circle cx="1641.4" cy="1595.9" r="19.2"/><circle cx="1651.2" cy="1617.0" r="19.2"/><circle cx="1661.1" cy="1620.9" r="19.2"/><circle cx="1672.2" cy="1631.6" r="19.2"/><circle cx="1682.7" cy="1642.1" r="19.2"/><circle cx="1690.6" cy="1643.0" r="19.2"/><circle cx="1700.4" cy="1634.5" r="19.2"/><circle cx="1752.5" cy="1631.0" r="19.2"/><circle cx="1763.0" cy="1679.3" r="19.2"/><circle cx="1790.3" cy="1675.1" r="19.2"/><circle cx="1796.6" cy="1727.6" r="19.2"/><circle cx="1805.0" cy="1759.2" r="19.2"/><circle cx="1823.9" cy="1744.5" r="19.2"/><circle cx="1834.5" cy="1721.3" r="19.2"/><circle cx="1859.7" cy="1752.9" r="19.2"/><circle cx="1863.9" cy="1717.1" r="19.2"/><circle cx="1887.0" cy="1715.0" r="19.2"/><circle cx="1889.1" cy="1757.1" r="19.2"/><circle cx="1918.5" cy="1740.3" r="19.2"/><circle cx="1962.6" cy="1799.1" r="19.2"/><circle cx="1987.8" cy="1744.5" r="19.2"/><circle cx="2025.6" cy="1889.4" r="19.2"/><circle cx="2052.9" cy="1824.3" r="19.2"/><circle cx="2065.5" cy="1855.8" r="19.2"/><circle cx="2088.7" cy="1931.4" r="19.2"/><circle cx="2099.2" cy="1809.6" r="19.2"/><circle cx="2099.2" cy="1841.1" r="19.2"/><circle cx="2122.9" cy="1860.3" r="19.2"/><circle cx="2133.3" cy="1912.2" r="19.2"/><circle cx="2143.7" cy="1966.0" r="19.2"/><circle cx="2154.1" cy="1874.1" r="19.2"/><circle cx="2181.8" cy="1936.5" r="19.2"/><circle cx="2192.2" cy="1940.0" r="19.2"/><circle cx="2202.6" cy="1971.2" r="19.2"/><circle cx="2223.4" cy="1943.4" r="19.2"/><circle cx="2240.8" cy="1992.0" r="19.2"/></g>
<g stroke="#00ffff" stroke-width="7.9" fill="#fff"><circle cx="293.8" cy="170.0" r="19.2"/><circle cx="303.6" cy="192.2" r="19.2"/><circle cx="313.5" cy="214.3" r="19.2"/><circle cx="323.3" cy="236.4" r="19.2"/><circle cx="333.1" cy="257.5" r="19.2"/><circle cx="343.0" cy="277.6" r="19.2"/><circle cx="352.8" cy="300.9" r="19.2"/><circle cx="362.7" cy="319.8" r="19.2"/><circle cx="372.5" cy="339.0" r="19.2"/><circle cx="382.3" cy="356.1" r="19.2"/><circle cx="392.2" cy="371.5" r="19.2"/><circle cx="402.0" cy="388.4" r="19.2"/><circle cx="411.8" cy="409.1" r="19.2"/><circle cx="421.7" cy="420.6" r="19.2"/><circle cx="431.5" cy="426.7" r="19.2"/><circle cx="441.3" cy="438.9" r="19.2"/><circle cx="451.2" cy="461.2" r="19.2"/><circle cx="461.0" cy="472.6" r="19.2"/><circle cx="470.9" cy="491.5" r="19.2"/><circle cx="480.7" cy="516.2" r="19.2"/><circle cx="490.5" cy="534.4" r="19.2"/><circle cx="500.4" cy="536.2" r="19.2"/><circle cx="510.2" cy="553.4" r="19.2"/><circle cx="520.0" cy="564.0" r="19.2"/><circle cx="529.9" cy="577.4" r="19.2"/><circle cx="539.7" cy="584.3" r="19.2"/><circle cx="549.5" cy="600.9" r="19.2"/><circle cx="559.4" cy="620.8" r="19.2"/><circle cx="569.2" cy="630.7" r="19.2"/><circle cx="579.1" cy="634.6" r="19.2"/><circle cx="588.9" cy="640.9" r="19.2"/><circle cx="598.7" cy="668.4" r="19.2"/><circle cx="608.6" cy="679.5" r="19.2"/><circle cx="618.4" cy="686.8" r="19.2"/><circle cx="628.2" cy="705.6" r="19.2"/><circle cx="638.1" cy="711.6" r="19.2"/><circle cx="647.9" cy="720.9" r="19.2"/><circle cx="657.8" cy="724.7" r="19.2"/><circle cx="667.6" cy="740.9" r="19.2"/><circle cx="677.4" cy="753.4" r="19.2"/><circle cx="687.3" cy="776.8" r="19.2"/><circle cx="697.1" cy="785.3" r="19.2"/><circle cx="706.9" cy="790.2" r="19.2"/><circle cx="716.8" cy="790.8" r="19.2"/><circle cx="726.6" cy="806.7" r="19.2"/><circle cx="736.4" cy="810.4" r="19.2"/><circle cx="746.3" cy="821.0" r="19.2"/><circle cx="756.1" cy="826.5" r="19.2"/><circle cx="766.0" cy="852.1" r="19.2"/><circle cx="775.8" cy="851.4" r="19.2"/><circle cx="785.6" cy="847.1" r="19.2"/><circle cx="795.5" cy="859.4" r="19.2"/><circle cx="805.3" cy="867.9" r="19.2"/><circle cx="815.1" cy="875.1" r="19.2"/><circle cx="825.0" cy="894.4" r="19.2"/><circle cx="834.8" cy="910.7" r="19.2"/><circle cx="844.6" cy="924.5" r="19.2"/><circle cx="854.5" cy="950.8" r="19.2"/><circle cx="864.3" cy="948.6" r="19.2"/><circle cx="874.2" cy="966.4" r="19.2"/><circle cx="884.0" cy="964.9" r="19.2"/><circle cx="893.8" cy="977.3" r="19.2"/><circle cx="903.7" cy="953.8" r="19.2"/><circle cx="913.5" cy="959.2" r="19.2"/><circle cx="923.3" cy="978.4" r="19.2"/><circle cx="933.2" cy="1000.5" r="19.2"/><circle cx="943.0" cy="1008.4" r="19.2"/><circle cx="952.8" cy="1004.8" r="19.2"/><circle cx="962.7" cy="1028.0" r="19.2"/><circle cx="972.5" cy="1056.6" r="19.2"/><circle cx="982.4" cy="1039.3" r="19.2"/><circle cx="992.2" cy="1050.2" r="19.2"/><circle cx="1002.0" cy="1065.9" r="19.2"/><circle cx="1011.9" cy="1079.3" r="19.2"/><circle cx="1021.7" cy="1067.9" r="19.2"/><circle cx="1031.5" cy="1082.8" r="19.2"/><circle cx="1041.4" cy="1094.1" r="19.2"/><circle cx="1051.2" cy="1099.9" r="19.2"/><circle cx="1061.0" cy="1121.5" r="19.2"/><circle cx="1070.9" cy="1142.1" r="19.2"/><circle cx="1080.7" cy="1142.2" r="19.2"/><circle cx="1090.6" cy="1171.5" r="19.2"/><circle cx="1100.4" cy="1160.2" r="19.2"/><circle cx="1110.2" cy="1197.1" r="19.2"/><circle cx="1120.1" cy="1183.6" r="19.2"/><circle cx="1129.9" cy="1211.0" r="19.2"/><circle cx="1139.7" cy="1197.6" r="19.2"/><circle cx="1149.6" cy="1213.0" r="19.2"/><circle cx="1159.4" cy="1232.3" r="19.2"/><circle cx="1169.2" cy="1226.1" r="19.2"/><circle cx="1179.1" cy="1244.4" r="19.2"/><circle cx="1188.9" cy="1234.4" r="19.2"/><circle cx="1198.8" cy="1233.9" r="19.2"/><circle cx="1208.6" cy="1246.2" r="19.2"/><circle cx="1218.4" cy="1257.3" r="19.2"/><circle cx="1228.3" cy="1273.6" r="19.2"/><circle cx="1238.1" cy="1291.1" r="19.2"/><circle cx="1247.9" cy="1343.1" r="19.2"/><circle cx="1257.8" cy="1355.8" r="19.2"/><circle cx="1267.6" cy="1354.8" r="19.2"/><circle cx="1277.5" cy="1353.1" r="19.2"/><circle cx="1287.3" cy="1352.9" r="19.2"/><circle cx="1297.1" cy="1362.8" r="19.2"/><circle cx="1306.6" cy="1347.1" r="19.2"/><circle cx="1315.0" cy="1389.1" r="19.2"/><circle cx="1326.6" cy="1378.5" r="19.2"/><circle cx="1336.5" cy="1406.2" r="19.2"/><circle cx="1346.5" cy="1378.6" r="19.2"/><circle cx="1352.8" cy="1410.2" r="19.2"/><circle cx="1363.3" cy="1444.6" r="19.2"/><circle cx="1375.8" cy="1443.3" r="19.2"/><circle cx="1382.2" cy="1455.1" r="19.2"/><circle cx="1395.5" cy="1458.1" r="19.2"/><circle cx="1405.3" cy="1473.9" r="19.2"/><circle cx="1411.6" cy="1459.3" r="19.2"/><circle cx="1428.5" cy="1490.8" r="19.2"/><circle cx="1436.9" cy="1520.2" r="19.2"/><circle cx="1444.7" cy="1492.9" r="19.2"/><circle cx="1451.6" cy="1482.4" r="19.2"/><circle cx="1464.3" cy="1473.4" r="19.2"/><circle cx="1474.2" cy="1465.6" r="19.2"/><circle cx="1481.0" cy="1463.5" r="19.2"/><circle cx="1493.6" cy="1453.0" r="19.2"/><circle cx="1506.2" cy="1476.1" r="19.2"/><circle cx="1516.7" cy="1492.9" r="19.2"/><circle cx="1523.4" cy="1484.0" r="19.2"/><circle cx="1533.2" cy="1474.9" r="19.2"/><circle cx="1543.0" cy="1467.5" r="19.2"/><circle cx="1552.4" cy="1471.9" r="19.2"/><circle cx="1567.1" cy="1448.8" r="19.2"/><circle cx="1573.4" cy="1420.7" r="19.2"/><circle cx="1582.4" cy="1440.2" r="19.2"/><circle cx="1588.1" cy="1455.1" r="19.2"/><circle cx="1602.1" cy="1477.7" r="19.2"/><circle cx="1611.9" cy="1484.8" r="19.2"/><circle cx="1617.5" cy="1501.3" r="19.2"/><circle cx="1630.1" cy="1488.7" r="19.2"/><circle cx="1640.6" cy="1532.8" r="19.2"/><circle cx="1651.2" cy="1536.9" r="19.2"/><circle cx="1663.7" cy="1558.1" r="19.2"/><circle cx="1672.2" cy="1579.1" r="19.2"/><circle cx="1682.7" cy="1520.2" r="19.2"/><circle cx="1686.9" cy="1549.6" r="19.2"/><circle cx="1700.4" cy="1568.6" r="19.2"/><circle cx="1721.0" cy="1620.5" r="19.2"/><circle cx="1731.5" cy="1694.0" r="19.2"/><circle cx="1739.9" cy="1769.7" r="19.2"/><circle cx="1748.3" cy="1828.5" r="19.2"/><circle cx="1760.9" cy="1788.6" r="19.2"/><circle cx="1779.8" cy="1799.1" r="19.2"/><circle cx="1784.0" cy="1881.0" r="19.2"/><circle cx="1792.4" cy="1870.5" r="19.2"/><circle cx="1817.6" cy="1935.6" r="19.2"/><circle cx="1836.6" cy="1895.7" r="19.2"/><circle cx="1847.1" cy="1864.2" r="19.2"/><circle cx="1855.5" cy="1918.8" r="19.2"/><circle cx="1872.3" cy="1822.2" r="19.2"/><circle cx="1878.6" cy="1841.1" r="19.2"/><circle cx="1889.1" cy="1920.9" r="19.2"/><circle cx="1910.1" cy="1912.5" r="19.2"/><circle cx="1922.7" cy="1925.1" r="19.2"/><circle cx="1929.0" cy="1918.8" r="19.2"/><circle cx="1939.5" cy="1790.7" r="19.2"/><circle cx="1945.8" cy="1750.8" r="19.2"/><circle cx="1958.4" cy="1784.4" r="19.2"/><circle cx="1971.0" cy="1841.1" r="19.2"/><circle cx="1987.8" cy="1752.9" r="19.2"/><circle cx="2008.8" cy="1805.4" r="19.2"/><circle cx="2023.5" cy="1818.0" r="19.2"/><circle cx="2023.5" cy="1857.9" r="19.2"/><circle cx="2044.5" cy="1822.2" r="19.2"/><circle cx="2061.3" cy="1899.9" r="19.2"/><circle cx="2078.2" cy="1986.1" r="19.2"/></g>
<g stroke="#000" stroke-width="6.2" stroke-linejoin="round" fill="none"><path d="M293.8 172.4 296.3 181.0 298.7 189.6 301.2 198.2 303.6 206.7 306.1 215.2 308.6 223.6 311.0 232.0 313.5 240.3 315.9 248.5 318.4 256.6 320.9 264.7 323.3 272.7 325.8 280.6 328.2 288.3 330.7 296.0 333.1 303.6 335.6 311.0 338.1 318.3 340.5 325.5 343.0 332.6 352.8 360.2 362.7 387.1 372.5 413.4 382.3 438.9 392.2 463.8 402.0 488.0 411.8 511.4 421.7 534.2 431.5 553.7 441.3 570.1 451.2 585.9 461.0 603.4 470.9 623.1 480.7 642.3 490.5 661.0 500.4 679.1 510.2 696.6 520.0 713.1 529.9 728.6 539.7 743.4 549.5 758.0 559.4 772.7 569.2 787.3 579.1 801.5 588.9 815.3 598.7 828.9 608.6 842.0 618.4 854.7 628.2 867.0 638.1 878.9 647.9 890.5 657.8 901.8 667.6 913.0 677.4 924.2 687.3 935.3 697.1 946.6 706.9 958.5 716.8 970.6 726.6 982.8 736.4 994.9 746.3 1006.8 756.1 1018.2 766.0 1029.0 775.8 1039.1 785.6 1048.9 795.5 1058.6 805.3 1068.1 815.1 1077.4 825.0 1086.7 834.8 1095.8 844.6 1104.9 854.5 1114.1 864.3 1123.2 874.2 1132.4 884.0 1141.7 893.8 1151.1 903.7 1160.8 913.5 1170.7 923.3 1180.8 933.2 1191.0 943.0 1201.3 952.8 1211.4 962.7 1221.4 972.5 1231.1 982.4 1240.6 992.2 1250.0 1002.0 1259.5 1011.9 1268.9 1021.7 1278.4 1031.5 1287.8 1041.4 1297.2 1051.2 1306.5 1061.0 1315.9 1070.9 1325.2 1080.7 1334.6 1090.6 1343.9 1100.4 1353.2 1110.2 1362.6 1120.1 1371.9 1129.9 1381.1 1139.7 1390.4 1149.6 1399.7 1159.4 1409.0 1169.2 1418.2 1179.1 1427.5 1188.9 1436.7 1198.8 1445.9 1208.6 1455.2 1218.4 1464.4 1228.3 1473.6 1238.1 1482.8 1247.9 1492.0 1257.8 1501.2 1267.6 1510.4 1277.5 1519.6 1287.3 1528.7 1297.1 1537.9 1307.0 1547.1 1316.8 1556.2 1326.6 1565.4 1336.5 1574.6 1346.3 1583.7 1356.1 1592.9 1366.0 1602.0 1375.8 1611.2 1385.7 1620.3 1395.5 1629.5 1405.3 1638.6 1415.2 1647.8 1425.0 1656.9 1434.8 1666.1 1444.7 1675.2 1454.5 1684.4 1464.3 1693.5 1474.2 1702.7 1484.0 1711.8 1493.9 1721.0 1503.7 1730.1 1513.5 1739.2 1523.4 1748.4 1533.2 1757.5 1543.0 1766.7 1552.9 1775.8 1562.7 1784.9 1572.5 1794.1 1582.4 1803.2 1592.2 1812.3 1602.1 1821.5 1611.9 1830.6 1621.7 1839.7 1631.6 1848.6 1641.4 1857.4 1651.2 1866.1 1661.1 1874.7 1670.9 1883.3 1680.7 1891.7 1690.6 1900.1 1700.4 1908.4 1710.3 1916.7 1720.1 1924.9 1729.9 1933.1 1739.8 1941.3 1749.6 1949.6 1759.4 1957.8 1769.3 1966.1 1779.1 1974.4 1788.9 1982.7 1798.8 1991.1 1808.6 1999.6 1818.5 2008.2 1828.3 2016.7 1838.1 2025.3 1848.0 2033.8 1857.8 2042.4 1867.6 2050.9 1877.5 2059.5"/><path d="M293.8 172.4 296.3 178.7 298.7 185.0 301.2 191.3 303.6 197.6 306.1 203.9 308.6 210.2 311.0 216.5 313.5 222.7 315.9 228.9 318.4 235.1 320.9 241.2 323.3 247.2 325.8 253.2 328.2 259.2 330.7 265.1 333.1 270.8 335.6 276.5 338.1 282.2 340.5 287.7 343.0 293.1 352.8 313.6 362.7 332.0 372.5 349.1 382.3 366.1 392.2 382.8 402.0 399.4 411.8 415.9 421.7 432.1 431.5 448.2 441.3 464.2 451.2 480.0 461.0 495.6 470.9 511.1 480.7 526.4 490.5 541.5 500.4 556.3 510.2 570.7 520.0 584.9 529.9 598.8 539.7 612.4 549.5 625.8 559.4 638.9 569.2 651.9 579.1 664.6 588.9 677.2 598.7 689.7 608.6 702.0 618.4 714.2 628.2 726.3 638.1 738.4 647.9 750.3 657.8 762.1 667.6 773.6 677.4 785.0 687.3 796.1 697.1 807.2 706.9 818.1 716.8 828.8 726.6 839.5 736.4 850.1 746.3 860.6 756.1 871.0 766.0 881.4 775.8 891.8 785.6 902.2 795.5 912.6 805.3 923.1 815.1 933.6 825.0 944.1 834.8 954.6 844.6 965.0 854.5 975.3 864.3 985.6 874.2 995.9 884.0 1006.3 893.8 1016.7 903.7 1027.1 913.5 1037.4 923.3 1047.7 933.2 1057.9 943.0 1068.1 952.8 1078.2 962.7 1088.3 972.5 1098.4 982.4 1108.3 992.2 1118.3 1002.0 1128.2 1011.9 1138.0 1021.7 1147.8 1031.5 1157.5 1041.4 1167.2 1051.2 1176.9 1061.0 1186.5 1070.9 1196.1 1080.7 1205.6 1090.6 1215.1 1100.4 1224.5 1110.2 1233.9 1120.1 1243.3 1129.9 1252.6 1139.7 1262.0 1149.6 1271.3 1159.4 1280.7 1169.2 1290.0 1179.1 1299.3 1188.9 1308.6 1198.8 1317.9 1208.6 1327.1 1218.4 1336.3 1228.3 1345.5 1238.1 1354.7 1247.9 1363.9 1257.8 1373.0 1267.6 1382.1 1277.5 1391.1 1287.3 1400.1 1297.1 1409.1 1307.0 1418.1 1316.8 1427.1 1326.6 1436.0 1336.5 1445.0 1346.3 1454.0 1356.1 1462.9 1366.0 1471.8 1375.8 1480.8 1385.7 1489.7 1395.5 1498.6 1405.3 1507.5 1415.2 1516.4 1425.0 1525.3 1434.8 1534.2 1444.7 1543.1 1454.5 1551.9 1464.3 1560.7 1474.2 1569.6 1484.0 1578.4 1493.9 1587.1 1503.7 1595.9 1513.5 1604.6 1523.4 1613.4 1533.2 1622.1 1543.0 1630.7 1552.9 1639.4 1562.7 1648.0 1572.5 1656.6 1582.4 1665.2 1592.2 1673.7 1602.1 1682.2 1611.9 1690.7 1621.7 1699.1 1631.6 1707.5 1641.4 1715.9 1651.2 1724.2 1661.1 1732.5 1670.9 1740.8 1680.7 1749.0 1690.6 1757.2 1700.4 1765.3 1710.3 1773.3 1720.1 1781.3 1729.9 1789.1 1739.8 1796.8 1749.6 1804.5 1759.4 1812.0 1769.3 1819.5 1779.1 1826.9 1788.9 1834.3 1798.8 1841.5 1808.6 1848.8 1818.5 1855.9 1828.3 1863.1 1838.1 1870.1 1848.0 1877.2 1857.8 1884.2 1867.6 1891.2 1877.5 1898.1 1887.3 1905.1 1897.1 1912.0 1907.0 1918.9 1916.8 1925.8 1926.7 1932.7 1936.5 1939.6 1946.3 1946.5 1956.2 1953.5 1966.0 1960.4 1975.8 1967.4 1985.7 1974.4 1995.5 1981.4 2005.4 1988.5 2015.2 1995.6 2025.0 2002.8 2034.9 2009.9 2044.7 2017.1 2054.5 2024.3 2064.4 2031.5 2074.2 2038.6 2084.0 2045.8 2093.9 2053.0 2103.7 2060.1"/><path d="M293.8 172.4 296.3 177.9 298.7 183.3 301.2 188.8 303.6 194.2 306.1 199.7 308.6 205.1 311.0 210.4 313.5 215.8 315.9 221.1 318.4 226.5 320.9 231.8 323.3 237.0 325.8 242.3 328.2 247.5 330.7 252.6 333.1 257.8 335.6 262.9 338.1 268.0 340.5 273.0 343.0 278.0 352.8 297.7 362.7 316.6 372.5 334.7 382.3 352.3 392.2 369.7 402.0 386.7 411.8 403.5 421.7 420.1 431.5 436.3 441.3 452.3 451.2 468.1 461.0 483.5 470.9 498.8 480.7 513.7 490.5 528.5 500.4 543.0 510.2 557.2 520.0 571.2 529.9 584.9 539.7 598.3 549.5 611.5 559.4 624.5 569.2 637.3 579.1 649.8 588.9 662.2 598.7 674.3 608.6 686.3 618.4 698.1 628.2 709.7 638.1 721.2 647.9 732.5 657.8 743.6 667.6 754.5 677.4 765.3 687.3 775.9 697.1 786.3 706.9 796.6 716.8 806.7 726.6 816.8 736.4 826.7 746.3 836.5 756.1 846.2 766.0 855.8 775.8 865.3 785.6 874.8 795.5 884.2 805.3 893.5 815.1 902.8 825.0 912.1 834.8 921.3 844.6 930.5 854.5 939.8 864.3 949.0 874.2 958.2 884.0 967.3 893.8 976.5 903.7 985.5 913.5 994.6 923.3 1003.5 933.2 1012.5 943.0 1021.4 952.8 1030.2 962.7 1039.0 972.5 1047.8 982.4 1056.6 992.2 1065.3 1002.0 1073.9 1011.9 1082.6 1021.7 1091.2 1031.5 1099.8 1041.4 1108.4 1051.2 1116.9 1061.0 1125.4 1070.9 1133.9 1080.7 1142.4 1090.6 1150.9 1100.4 1159.3 1110.2 1167.7 1120.1 1176.1 1129.9 1184.5 1139.7 1192.9 1149.6 1201.2 1159.4 1209.6 1169.2 1217.9 1179.1 1226.2 1188.9 1234.5 1198.8 1242.8 1208.6 1251.1 1218.4 1259.3 1228.3 1267.6 1238.1 1275.9 1247.9 1284.1 1257.8 1292.4 1267.6 1300.7 1277.5 1308.9 1287.3 1317.2 1297.1 1325.5 1307.0 1334.0 1316.8 1342.7 1326.6 1351.6 1336.5 1360.6 1346.3 1369.7 1356.1 1378.8 1366.0 1387.9 1375.8 1396.9 1385.7 1405.8 1395.5 1414.6 1405.3 1423.2 1415.2 1431.5 1425.0 1439.7 1434.8 1447.8 1444.7 1456.0 1454.5 1464.1 1464.3 1472.3 1474.2 1480.4 1484.0 1488.5 1493.9 1496.7 1503.7 1504.8 1513.5 1512.9 1523.4 1521.0 1533.2 1529.1 1543.0 1537.2 1552.9 1545.3 1562.7 1553.4 1572.5 1561.5 1582.4 1569.5 1592.2 1577.6 1602.1 1585.7 1611.9 1593.7 1621.7 1601.8 1631.6 1609.8 1641.4 1617.9 1651.2 1625.9 1661.1 1634.0 1670.9 1642.0 1680.7 1650.1 1690.6 1658.1 1700.4 1666.1 1710.3 1674.0 1720.1 1681.9 1729.9 1689.6 1739.8 1697.4 1749.6 1705.1 1759.4 1712.8 1769.3 1720.5 1779.1 1728.1 1788.9 1735.9 1798.8 1743.6 1808.6 1751.3 1818.5 1758.9 1828.3 1766.6 1838.1 1774.3 1848.0 1781.9 1857.8 1789.6 1867.6 1797.2 1877.5 1804.8 1887.3 1812.4 1897.1 1820.0 1907.0 1827.6 1916.8 1835.2 1926.7 1842.8 1936.5 1850.4 1946.3 1858.0 1956.2 1865.5 1966.0 1873.1 1975.8 1880.7 1985.7 1888.2 1995.5 1895.8 2005.4 1903.3 2015.2 1910.9 2025.0 1918.4 2034.9 1925.9 2044.7 1933.5 2054.5 1941.0 2064.4 1948.6 2074.2 1956.1 2084.0 1963.6 2093.9 1971.2 2103.7 1978.7 2113.6 1986.2 2123.4 1993.8 2133.2 2001.3 2143.1 2008.9 2152.9 2016.4 2162.7 2024.0 2172.6 2031.5 2182.4 2039.0 2192.2 2046.5 2202.1 2054.0"/><path d="M293.8 172.4 296.3 176.4 298.7 180.4 301.2 184.3 303.6 188.3 306.1 192.3 308.6 196.2 311.0 200.2 313.5 204.1 315.9 208.0 318.4 211.9 320.9 215.8 323.3 219.7 325.8 223.6 328.2 227.5 330.7 231.4 333.1 235.3 335.6 239.1 338.1 243.0 340.5 246.8 343.0 250.6 352.8 265.8 362.7 280.9 372.5 295.7 382.3 310.4 392.2 324.9 402.0 339.2 411.8 353.6 421.7 368.2 431.5 382.8 441.3 397.4 451.2 412.0 461.0 426.4 470.9 440.7 480.7 454.7 490.5 468.5 500.4 481.9 510.2 494.9 520.0 507.4 529.9 519.4 539.7 530.9 549.5 541.7 559.4 552.0 569.2 561.9 579.1 571.3 588.9 580.5 598.7 589.4 608.6 598.2 618.4 606.8 628.2 615.4 638.1 624.1 647.9 632.9 657.8 641.8 667.6 650.8 677.4 659.7 687.3 668.4 697.1 677.1 706.9 685.7 716.8 694.2 726.6 702.7 736.4 711.0 746.3 719.3 756.1 727.6 766.0 735.8 775.8 743.9 785.6 751.9 795.5 760.0 805.3 767.9 815.1 775.9 825.0 783.8 834.8 791.6 844.6 799.4 854.5 807.2 864.3 815.0 874.2 822.7 884.0 830.4 893.8 838.1 903.7 845.8 913.5 853.4 923.3 861.0 933.2 868.6 943.0 876.2 952.8 883.7 962.7 891.2 972.5 898.7 982.4 906.2 992.2 913.6 1002.0 921.1 1011.9 928.5 1021.7 935.9 1031.5 943.3 1041.4 950.7 1051.2 958.0 1061.0 965.4 1070.9 972.7 1080.7 980.0 1090.6 987.4 1100.4 994.7 1110.2 1001.9 1120.1 1009.2 1129.9 1016.5 1139.7 1023.8 1149.6 1031.0 1159.4 1038.3 1169.2 1045.5 1179.1 1052.8 1188.9 1060.0 1198.8 1067.2 1208.6 1074.4 1218.4 1081.7 1228.3 1088.9 1238.1 1096.1 1247.9 1103.2 1257.8 1110.4 1267.6 1117.6 1277.5 1124.8 1287.3 1132.0 1297.1 1139.1 1307.0 1146.3 1316.8 1153.5 1326.6 1160.7 1336.5 1167.8 1346.3 1175.0 1356.1 1182.2 1366.0 1189.4 1375.8 1196.6 1385.7 1203.8 1395.5 1211.0 1405.3 1218.2 1415.2 1225.4 1425.0 1232.6 1434.8 1239.8 1444.7 1247.0 1454.5 1254.2 1464.3 1261.4 1474.2 1268.6 1484.0 1275.8 1493.9 1283.0 1503.7 1290.2 1513.5 1297.4 1523.4 1304.6 1533.2 1311.8 1543.0 1319.0 1552.9 1326.1 1562.7 1333.3 1572.5 1340.4 1582.4 1347.6 1592.2 1354.7 1602.1 1361.9 1611.9 1369.0 1621.7 1376.1 1631.6 1383.2 1641.4 1390.3 1651.2 1397.4 1661.1 1404.5 1670.9 1411.5 1680.7 1418.6 1690.6 1425.6 1700.4 1432.6 1710.3 1439.6 1720.1 1446.6 1729.9 1453.6 1739.8 1460.6 1749.6 1467.6 1759.4 1474.6 1769.3 1481.6 1779.1 1488.6 1788.9 1495.5 1798.8 1502.5 1808.6 1509.4 1818.5 1516.4 1828.3 1523.3 1838.1 1530.3 1848.0 1537.2 1857.8 1544.1 1867.6 1551.1 1877.5 1558.0 1887.3 1564.9 1897.1 1571.8 1907.0 1578.8 1916.8 1585.7 1926.7 1592.6 1936.5 1599.5 1946.3 1606.4 1956.2 1613.3 1966.0 1620.2 1975.8 1627.1 1985.7 1634.0 1995.5 1640.9 2005.4 1647.8 2015.2 1654.7 2025.0 1661.5 2034.9 1668.4 2044.7 1675.3 2054.5 1682.2 2064.4 1689.1 2074.2 1696.0 2084.0 1702.9 2093.9 1709.8 2103.7 1716.6 2113.6 1723.5 2123.4 1730.4 2133.2 1737.2 2143.1 1744.1 2152.9 1750.9 2162.7 1757.7 2172.6 1764.6 2182.4 1771.4 2192.2 1778.2 2202.1 1785.0 2211.9 1791.8 2221.8 1798.6 2231.6 1805.4 2241.4 1812.2 2251.3 1819.0 2261.1 1825.8"/><path d="M293.8 172.4 296.3 175.9 298.7 179.4 301.2 183.0 303.6 186.5 306.1 190.0 308.6 193.4 311.0 196.9 313.5 200.4 315.9 203.9 318.4 207.3 320.9 210.8 323.3 214.2 325.8 217.7 328.2 221.1 330.7 224.5 333.1 227.9 335.6 231.3 338.1 234.7 340.5 238.1 343.0 241.5 352.8 255.0 362.7 268.3 372.5 281.5 382.3 294.6 392.2 307.6 402.0 320.5 411.8 333.3 421.7 346.0 431.5 358.8 441.3 371.5 451.2 384.3 461.0 396.9 470.9 409.5 480.7 422.0 490.5 434.4 500.4 446.6 510.2 458.6 520.0 470.5 529.9 482.1 539.7 493.5 549.5 504.6 559.4 515.4 569.2 525.9 579.1 536.0 588.9 545.9 598.7 555.5 608.6 565.0 618.4 574.2 628.2 583.3 638.1 592.2 647.9 601.1 657.8 609.8 667.6 618.5 677.4 627.2 687.3 635.9 697.1 644.5 706.9 653.1 716.8 661.7 726.6 670.1 736.4 678.5 746.3 686.8 756.1 695.0 766.0 703.2 775.8 711.3 785.6 719.4 795.5 727.4 805.3 735.4 815.1 743.2 825.0 751.1 834.8 758.9 844.6 766.6 854.5 774.3 864.3 782.0 874.2 789.6 884.0 797.2 893.8 804.8 903.7 812.3 913.5 819.8 923.3 827.2 933.2 834.6 943.0 842.0 952.8 849.3 962.7 856.7 972.5 864.0 982.4 871.2 992.2 878.5 1002.0 885.7 1011.9 892.9 1021.7 900.0 1031.5 907.2 1041.4 914.3 1051.2 921.4 1061.0 928.5 1070.9 935.6 1080.7 942.6 1090.6 949.7 1100.4 956.7 1110.2 963.7 1120.1 970.7 1129.9 977.7 1139.7 984.6 1149.6 991.6 1159.4 998.5 1169.2 1005.5 1179.1 1012.4 1188.9 1019.3 1198.8 1026.2 1208.6 1033.1 1218.4 1040.0 1228.3 1046.9 1238.1 1053.8 1247.9 1060.7 1257.8 1067.5 1267.6 1074.4 1277.5 1081.2 1287.3 1088.1 1297.1 1094.9 1307.0 1101.8 1316.8 1108.7 1326.6 1115.6 1336.5 1122.5 1346.3 1129.4 1356.1 1136.3 1366.0 1143.3 1375.8 1150.2 1385.7 1157.2 1395.5 1164.1 1405.3 1171.1 1415.2 1178.1 1425.0 1185.1 1434.8 1192.1 1444.7 1199.1 1454.5 1206.1 1464.3 1213.1 1474.2 1220.1 1484.0 1227.1 1493.9 1234.1 1503.7 1241.1 1513.5 1248.1 1523.4 1255.1 1533.2 1262.1 1543.0 1269.1 1552.9 1276.0 1562.7 1283.0 1572.5 1289.9 1582.4 1296.9 1592.2 1303.8 1602.1 1310.7 1611.9 1317.6 1621.7 1324.5 1631.6 1331.4 1641.4 1338.2 1651.2 1345.1 1661.1 1351.9 1670.9 1358.7 1680.7 1365.5 1690.6 1372.2 1700.4 1379.0 1710.3 1385.7 1720.1 1392.4 1729.9 1399.1 1739.8 1405.8 1749.6 1412.5 1759.4 1419.2 1769.3 1425.9 1779.1 1432.6 1788.9 1439.3 1798.8 1446.0 1808.6 1452.7 1818.5 1459.4 1828.3 1466.0 1838.1 1472.7 1848.0 1479.4 1857.8 1486.0 1867.6 1492.7 1877.5 1499.4 1887.3 1506.0 1897.1 1512.7 1907.0 1519.3 1916.8 1526.0 1926.7 1532.6 1936.5 1539.2 1946.3 1545.9 1956.2 1552.5 1966.0 1559.1 1975.8 1565.7 1985.7 1572.4 1995.5 1579.0 2005.4 1585.6 2015.2 1592.2 2025.0 1598.8 2034.9 1605.4 2044.7 1612.0 2054.5 1618.6 2064.4 1625.2 2074.2 1631.8 2084.0 1638.4 2093.9 1645.0 2103.7 1651.6 2113.6 1658.1 2123.4 1664.6 2133.2 1671.1 2143.1 1677.5 2152.9 1683.9 2162.7 1690.3 2172.6 1696.7 2182.4 1703.0 2192.2 1709.3 2202.1 1715.7 2211.9 1722.0 2221.8 1728.3 2231.6 1734.6 2241.4 1740.9 2251.3 1747.2 2261.1 1753.5"/><path d="M293.8 172.4 296.3 176.9 298.7 181.4 301.2 185.8 303.6 190.2 306.1 194.7 308.6 199.1 311.0 203.5 313.5 207.8 315.9 212.2 318.4 216.5 320.9 220.9 323.3 225.2 325.8 229.5 328.2 233.7 330.7 238.0 333.1 242.2 335.6 246.4 338.1 250.7 340.5 254.8 343.0 259.0 352.8 275.5 362.7 291.6 372.5 307.4 382.3 322.9 392.2 338.0 402.0 352.9 411.8 367.6 421.7 382.0 431.5 396.2 441.3 410.3 451.2 424.1 461.0 437.7 470.9 451.1 480.7 464.3 490.5 477.3 500.4 490.2 510.2 502.8 520.0 515.3 529.9 527.6 539.7 539.7 549.5 551.3 559.4 562.6 569.2 573.6 579.1 584.4 588.9 595.0 598.7 605.5 608.6 615.9 618.4 626.3 628.2 636.8 638.1 647.4 647.9 658.0 657.8 668.6 667.6 679.2 677.4 689.6 687.3 699.9 697.1 710.2 706.9 720.4 716.8 730.5 726.6 740.5 736.4 750.5 746.3 760.4 756.1 770.3 766.0 780.1 775.8 789.8 785.6 799.5 795.5 809.1 805.3 818.7 815.1 828.3 825.0 837.8 834.8 847.2 844.6 856.7 854.5 866.0 864.3 875.4 874.2 884.7 884.0 894.0 893.8 903.2 903.7 912.5 913.5 921.7 923.3 930.8 933.2 940.0 943.0 949.1 952.8 958.2 962.7 967.3 972.5 976.3 982.4 985.4 992.2 994.4 1002.0 1003.4 1011.9 1012.4 1021.7 1021.3 1031.5 1030.3 1041.4 1039.2 1051.2 1048.1 1061.0 1057.1 1070.9 1066.0 1080.7 1074.9 1090.6 1083.7 1100.4 1092.6 1110.2 1101.5 1120.1 1110.3 1129.9 1119.2 1139.7 1128.0 1149.6 1136.8 1159.4 1145.6 1169.2 1154.4 1179.1 1163.2 1188.9 1172.0 1198.8 1180.8 1208.6 1189.6 1218.4 1198.4 1228.3 1207.2 1238.1 1215.9 1247.9 1224.7 1257.8 1233.4 1267.6 1242.2 1277.5 1250.9 1287.3 1259.7 1297.1 1268.5 1307.0 1277.2 1316.8 1286.0 1326.6 1294.8 1336.5 1303.6 1346.3 1312.3 1356.1 1321.1 1366.0 1329.9 1375.8 1338.7 1385.7 1347.5 1395.5 1356.2 1405.3 1365.0 1415.2 1373.7 1425.0 1382.5 1434.8 1391.2 1444.7 1399.9 1454.5 1408.6 1464.3 1417.3 1474.2 1425.9 1484.0 1434.6 1493.9 1443.2 1503.7 1451.7 1513.5 1460.1 1523.4 1468.5 1533.2 1476.8 1543.0 1485.1 1552.9 1493.4 1562.7 1501.6 1572.5 1509.8 1582.4 1518.0 1592.2 1526.2 1602.1 1534.4 1611.9 1542.6 1621.7 1550.8 1631.6 1559.0 1641.4 1567.3 1651.2 1575.6 1661.1 1584.0 1670.9 1592.4 1680.7 1600.9 1690.6 1609.5 1700.4 1618.1 1710.3 1626.8 1720.1 1635.5 1729.9 1644.3 1739.8 1653.1 1749.6 1661.9 1759.4 1670.7 1769.3 1679.5 1779.1 1688.3 1788.9 1697.1 1798.8 1705.9 1808.6 1714.7 1818.5 1723.4 1828.3 1732.0 1838.1 1740.6 1848.0 1749.2 1857.8 1757.8 1867.6 1766.4 1877.5 1775.0 1887.3 1783.6 1897.1 1792.2 1907.0 1800.7 1916.8 1809.3 1926.7 1817.9 1936.5 1826.4 1946.3 1835.0 1956.2 1843.6 1966.0 1852.1 1975.8 1860.7 1985.7 1869.3 1995.5 1877.8 2005.4 1886.4 2015.2 1894.9 2025.0 1903.5 2034.9 1912.1 2044.7 1920.6 2054.5 1929.2 2064.4 1937.8 2074.2 1946.3 2084.0 1954.9 2093.9 1963.5 2103.7 1972.1 2113.6 1980.7 2123.4 1989.3 2133.2 1997.9 2143.1 2006.5 2152.9 2015.1 2162.7 2023.8 2172.6 2032.5 2182.4 2041.2 2192.2 2049.9 2202.1 2058.6"/></g>
</g>
<g stroke="#c4c4c4" stroke-width="2.4" fill="none"><path d="M296.8 36.2H2258.1"/><path d="M2265.1 35V2032"/></g>
<path d="M290.9 32.0H2264.0M293.8 32.0V2034.0M2261.1 32.0V2034.0M275.0 2001.5H2261.1M416.8 2001.5V2020M539.7 2001.5V2034M662.7 2001.5V2020M785.6 2001.5V2034M908.6 2001.5V2020M1031.5 2001.5V2034M1154.5 2001.5V2020M1277.5 2001.5V2034M1400.4 2001.5V2020M1523.4 2001.5V2034M1646.3 2001.5V2020M1769.3 2001.5V2034M1892.2 2001.5V2020M2015.2 2001.5V2034M2138.1 2001.5V2020M261 172.4H293.8M261 966.9H293.8M275 727.7H293.8M275 587.8H293.8M275 488.6H293.8M275 411.6H293.8M275 348.7H293.8M275 295.5H293.8M275 249.4H293.8M275 208.8H293.8M261 1761.4H293.8M275 1522.2H293.8M275 1382.3H293.8M275 1283.1H293.8M275 1206.1H293.8M275 1143.2H293.8M275 1090.0H293.8M275 1043.9H293.8M275 1003.3H293.8M275 1937.7H293.8M275 1884.5H293.8M275 1838.4H293.8M275 1797.8H293.8" stroke="#000" stroke-width="5.6" fill="none"/>
<text class="tk" x="293.8" y="2104" text-anchor="middle">0</text>
<text class="tk" x="539.7" y="2104" text-anchor="middle">25</text>
<text class="tk" x="785.6" y="2104" text-anchor="middle">50</text>
<text class="tk" x="1031.5" y="2104" text-anchor="middle">75</text>
<text class="tk" x="1277.5" y="2104" text-anchor="middle">100</text>
<text class="tk" x="1523.4" y="2104" text-anchor="middle">125</text>
<text class="tk" x="1769.3" y="2104" text-anchor="middle">150</text>
<text class="tk" x="2015.2" y="2104" text-anchor="middle">175</text>
<text class="tk" x="2261.1" y="2104" text-anchor="middle">200</text>
<text class="tk" x="242.6" y="191.0" text-anchor="end">1</text>
<text class="tk" x="242.6" y="985.5" text-anchor="end">0.1</text>
<text class="tk" x="242.6" y="1780.0" text-anchor="end">0.01</text>
<text class="ti" x="1107.5" y="2237.3">Time (<tspan class="sym" font-size="90" dx="1">µ</tspan><tspan dx="0.5">s)</tspan></text>
<text class="ti" style="font-size:80.8px" transform="translate(79.3,1592.5) rotate(-90)">Log(luminescence intensity (arb.u.))</text>
<text class="b" style="font-size:80.5px" x="494" y="185.5">xerogels</text>
<text class="b" x="495" y="320.5">Dy<tspan font-size="48" dy="-40">3+</tspan><tspan dy="40">: </tspan><tspan class="sym" font-weight="normal">τ</tspan><tspan dx="3">(</tspan><tspan font-size="48" dy="-40">4</tspan><tspan dy="40">F</tspan><tspan font-size="48" dy="27" dx="1">9/2</tspan><tspan dy="-27">)</tspan></text>
<path d="M1857.5 160.5H1996.3" stroke="#8000ff" stroke-width="6.4"/>
<text class="lg" transform="translate(2016.8,176.6) scale(0.98,1.06)">XG1</text>
<path d="M1857.5 266.6H1996.3" stroke="#0000ff" stroke-width="6.0"/>
<text class="lg" transform="translate(2016.8,279.9) scale(0.98,1.06)">XG2</text>
<path d="M1857.5 368.6H1996.3" stroke="#00ffff" stroke-width="8.0"/>
<text class="lg" transform="translate(2016.8,383.0) scale(0.98,1.06)">XG3</text>
<path d="M1857.5 470.0H1996.3" stroke="#00ff00" stroke-width="8.0"/>
<text class="lg" transform="translate(2016.8,487.4) scale(0.98,1.06)">XG4</text>
<path d="M1857.5 574.7H1996.3" stroke="#ff8000" stroke-width="5.4"/>
<text class="lg" transform="translate(2016.8,589.2) scale(0.98,1.06)">XG5</text>
<path d="M1857.5 674.2H1996.3" stroke="#ff0000" stroke-width="8.0"/>
<text class="lg" transform="translate(2016.8,691.4) scale(0.98,1.06)">XG6</text>
<text class="lm" y="950.7"><tspan class="sym" x="1837.0" font-size="62">λ</tspan><tspan x="1869.5" dy="24" font-size="38.5">ex</tspan><tspan x="1932.3" dy="-24">=</tspan><tspan x="1985.8" letter-spacing="0.4">352</tspan><tspan x="2104.3" letter-spacing="2.6">nm</tspan></text>
<text class="lm" y="1052.2"><tspan class="sym" x="1823.5" font-size="62">λ</tspan><tspan x="1855.0" dy="24" font-size="38.5">em</tspan><tspan x="1932.3" dy="-24">=</tspan><tspan x="1985.8" letter-spacing="0.4">570</tspan><tspan x="2104.3" letter-spacing="2.6">nm</tspan></text>
</svg></body></html>
